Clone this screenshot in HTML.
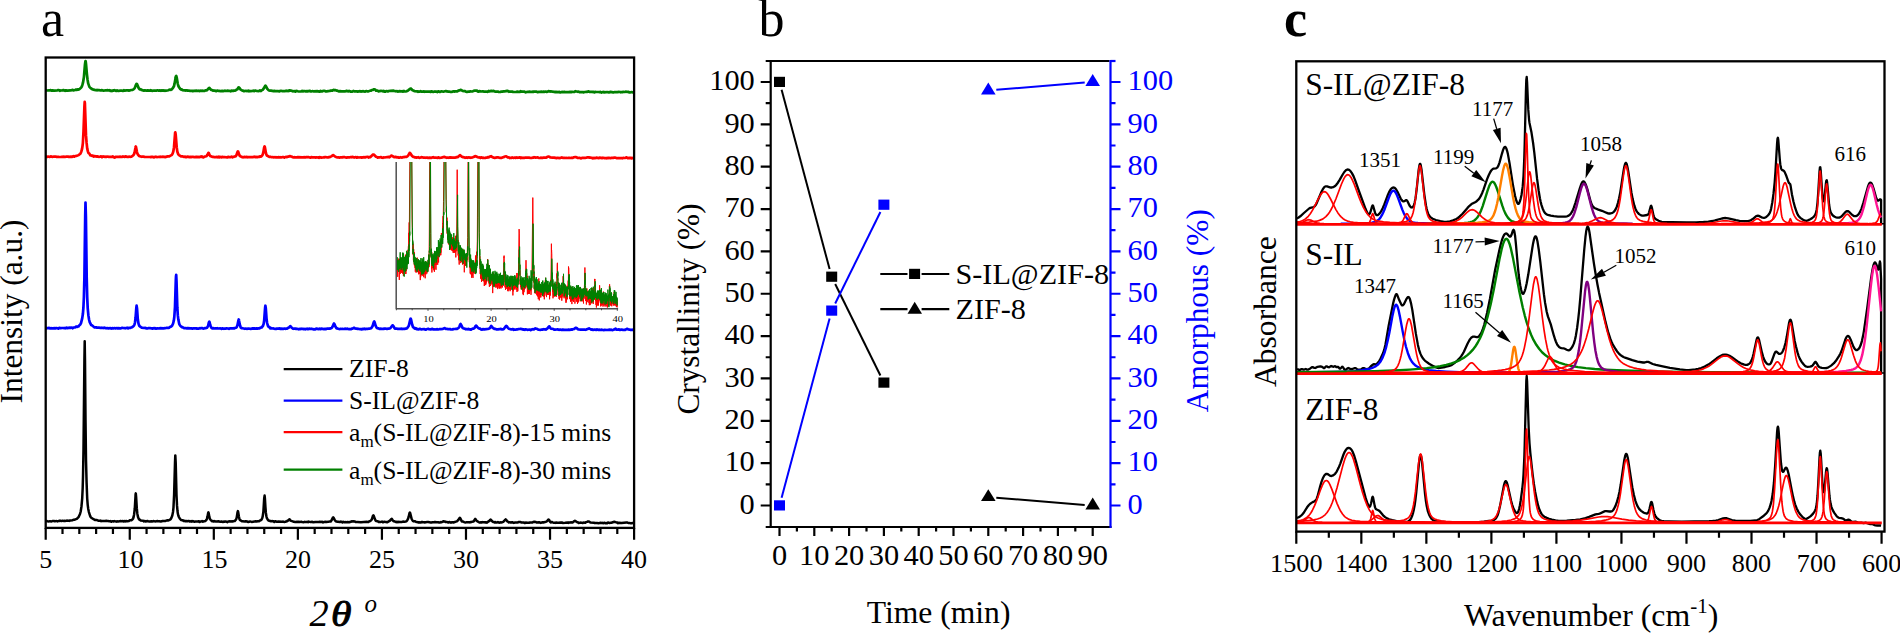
<!DOCTYPE html>
<html><head><meta charset="utf-8"><title>Figure</title>
<style>html,body{margin:0;padding:0;background:#fff}svg{display:block}</style>
</head><body>
<svg width="1900" height="633" viewBox="0 0 1900 633">
<g fill="none" stroke-linejoin="round" stroke-linecap="butt">
<path d="M45.7 520.9l0.8 0l0.9 0.3l1.7 0.2l0.8-0.2l1.7 0.2l0.8-0.3l1.7-0.1l0.8 0.3l0.9-0.2l0.8 0l0.9 0.3l0.8-0.4l0.8 0l0.9-0.4l0.8 0.4l0.9 0l0.8-0.3l0.9 0.2l0.8-0.1l0.8 0.2l1.7-0.4l1.7 0.1l0.8 0.2l0.9-0.4l2.5-0.3l0.8-0.4l0.9 0l1.7-0.7l0.8-0.2l1.7-1.7l1.5-3.2l0.7-2.5l0.8-5.3l0.7-7.9l0.5-10.5l0.3-11l0.5-27.6l0.9-88.6l0.3-19.3l0.3 19.5l0.5 58.1l0.5 41l0.6 23l0.6 15.6l0.5 6.3l0.5 3.9l0.7 3.4l1.2 3.8l0.5 1l0.7 0.9l2.3 1.5l0.9 0.3l0.8 0.5l0.8-0.1l0.9 0.1l1.7 0.7l0.8 0l0.8-0.2l0.9 0.6l0.8-0.3l0.9 0.2l0.8-0.1l1.7 0l0.8-0.2l0.9 0.2l0.8-0.1l0.8 0.3l0.9 0.1l0.8-0.2l0.9 0.7l0.8-0.6l0.8 0l0.9 0.3l0.8-0.4l0.9 0.3l0.8 0.3l0.8-0.4l0.9 0.1l1.7-0.1l0.8-0.3l0.9 0.2l1.6-0.1l0.9 0.5l0.8-0.7l0.9 0.5l0.8-0.4l0.8 0.3l1.7-0.3l0.9-0.7l1.6-0.1l1.2-1l0.5-0.7l0.5-1.5l0.5-2.5l0.7-6.3l0.7-11.8l0.1-2.3l0.2-0.7l0.3 3.2l0.7 11.6l0.5 5.2l0.4 2.2l0.5 2l0.5 1.1l0.5 0.7l1.5 1l2.5 0.4l0.8 0.6l0.9-0.4l0.8 0.6l1.7-0.7l0.8 0.4l0.9 0.1l2.5-0.1l0.9 0.2l0.8-0.4l0.8 0.1l0.9 0.2l2.5-0.3l0.8 0.1l0.9 0l1.7 0.3l0.8-0.2l0.8-0.3l0.9-0.1l1.7 0.2l1.6-0.7l0.9-0.1l0.8 0.2l0.9-0.5l0.8-0.3l0.7-0.7l0.5-0.9l1-2.6l0.7-3.5l0.5-4.7l0.6-12.5l0.9-32.2l0.3-7.2l0.4 7.1l0.8 32.5l0.5 10.4l0.5 5.6l0.3 2.3l0.5 2.2l0.5 1.3l1.2 2l1 1.2l1.7 0.3l0.9 0.7l0.8-0.3l0.8 0.5l0.9-0.3l1.7 0.3l0.8-0.3l0.8 0.5l0.9 0.1l0.8-0.5l0.9 0.6l0.8-0.6l0.8 0.5l0.9 0.2l0.8-0.2l2.5 0l0.9-0.2l0.8 0.7l0.9-0.4l0.8-0.1l0.8-0.4l0.9 0.7l0.8-0.5l0.9 0l0.8-0.4l0.3-0.3l0.9-1l0.3-0.7l0.5-1.8l0.7-3.9l0.2-0.7l0.1-0.2l0.2 0.4l0.8 4.5l0.5 1.7l0.9 1.2l1.3 1.1l0.9-0.1l0.8 0.5l0.9-0.5l0.8 0.4l0.8 0.1l2.6-0.3l0.8 0.4l0.8 0l0.9-0.2l1.7 0.5l0.8-0.5l0.8 0.2l0.9-0.3l1.7 0.8l0.8-0.6l0.8 0l0.9-0.3l0.8 0.2l1.7-0.2l0.8 0.1l0.9-0.3l0.8 0l1.4-1.9l0.5-1.5l0.8-5.3l0.4-1.3l0.3 1.1l0.7 4.3l0.6 2.7l0.4 0.8l0.3 0.2l0.5 0.1l0.9 0.9l0.8 0l2.5 0.3l0.9-0.2l1.6 0.3l0.9 0.4l0.8-0.2l0.9-0.4l1.6 0.5l4.2-0.6l0.9 0.3l0.8-0.4l0.9 0.1l0.6-0.1l1-0.8l0.9-0.2l0.7-0.7l0.6-1.3l0.5-1.8l0.7-4.9l0.8-13.1l0.4-2.8l0.3 2.8l0.5 8.5l0.5 6l0.5 3.3l0.5 1.9l1 1.7l0.7 0.7l2.4 0.8l0.8-0.2l1.7 0.2l0.8 0.7l0.9-0.7l1.7 0.5l1.6-0.2l3.4 0.2l0.8-0.2l1.7 0.3l0.9-0.1l1.6-0.5l0.9-0.8l0.8-0.1l0.5-0.8l0.4-0.3l0.3 0.2l0.7 0.8l0.6 0.6l1.7 0.5l0.9 0.4l1.6 0.3l1.7-0.4l0.9 0.3l0.8-0.2l1.7 0.1l0.8-0.2l0.9 0.3l1.7 0.2l0.8-0.4l0.8 0.3l0.9 0l0.8-0.3l0.9 0.4l0.8-0.6l1.7 0.5l0.8 0l0.9-0.3l0.8 0.5l2.5-0.3l3.4 0l0.8-0.2l1.7 0.3l0.8-0.4l0.9 0.7l0.8-0.4l1.7-0.3l1.7 0.2l0.8-0.2l0.9 0l0.8-0.3l0.9 0.2l1.3-2.1l0.8-1.8l0.4-0.4l0.3 0.3l1.2 2.3l1 1.3l1.7 0.5l0.8 0.1l1.7 0.3l0.8-0.5l0.9 0.2l0.8 0.6l0.9-0.6l0.8 0.5l0.8-0.2l1.7 0.1l0.9-0.2l1.6 0.3l0.9-0.3l0.8-0.2l0.9-0.5l0.8 0.1l0.5-0.1l2 0.3l0.9 0.5l0.3 0l0.5 0l0.9-0.2l3.3 0.3l5.9-0.4l0.8 0.2l0.9-0.1l0.8-0.6l0.9-0.2l1.1-1l0.5-0.8l1.2-3.6l0.4-0.4l0.3 0.4l1.2 3.5l0.8 1.5l0.3 0.4l1.7 0.2l0.9 0.6l0.8-0.1l0.8 0.3l1.7-0.5l0.9 0.7l1.7-0.6l0.8 0.2l0.8 0l0.9 0.4l3-1.7l1.3-1.6l0.4-0.2l0.3 0.2l0.9 1.6l0.8 0.7l0.8 0l1.7 0.9l0.9-0.5l0.8 0.6l0.8-0.5l0.9 0.3l1.7-0.2l0.8 0l0.8-0.3l1.2 0.2l1.7-0.3l0.7-0.3l0.8-1l0.9-1.8l0.5-1.7l0.8-3.6l0.3-0.6l0.2 0.1l0.3 0.9l1.2 4.9l0.5 1.2l1 1.5l0.9 0.3l0.8-0.2l0.9 0.5l0.8 0.3l0.8 0l0.9 0.5l0.8-0.2l1.7 0.3l0.8-0.5l0.9-0.1l0.8 0.3l0.9-0.1l0.8 0.3l0.8-0.3l1.7-0.2l0.9 0l2.5 0.5l0.8 0l0.9-0.3l1.6 0.1l0.9-0.3l1.7 0.3l1.6 0l0.9 0.2l0.8 0l0.9-0.4l0.8 0.1l0.3-0.1l0.5-0.2l0.9-0.7l0.8 0.3l0.9 0.1l0.8 0.5l0.9-0.2l0.8 0.3l0.8 0.4l0.9-0.6l1.7 0.7l0.8-0.5l0.8 0l0.9 0.3l3.2-1.1l0.6-0.3l0.9-0.9l1.7-2.5l0.1 0l0.4 0.5l1.5 3.2l0.8 0l0.9 0.3l0.8 0.5l1.7 0.2l0.8-0.2l1.7 0l0.8 0.2l0.9-0.3l0.8 0.1l0.9-0.4l1.5-0.3l0.5-0.5l1-1.7l0.3-0.4l0.4 0.3l0.8 1.3l0.7 0.6l2.3 1.4l0.9 0l0.8-0.3l0.9 0.3l0.8-0.4l0.8 0.2l0.9-0.1l0.8 0.3l0.9-0.3l0.8 0.5l0.8-0.8l1.6-1l0.8-1l0.3-0.3l0.5 0.3l0.9 1.1l1 0.9l0.8 0l0.9 0.6l0.8-0.4l0.8 0.5l0.9-0.1l0.8-0.4l0.9 0.5l0.8 0.1l0.8-0.4l0.9 0.1l0.8-0.1l1-0.4l1-0.8l1.1-1.4l0.5-0.3l0.6 0.5l0.9 1.5l0.8 0.3l0.9 0.7l0.8-0.2l0.8 0.4l1.7-0.3l1.7 0.6l0.8-0.3l1.7-0.2l0.9 0.2l1.6-0.6l0.9 0.1l0.8 0l0.9 0.4l0.8-0.1l1.7 0.2l0.8 0.5l0.9-0.5l1.6 0.2l0.9-0.1l0.8 0.1l0.9-0.3l0.8-0.1l0.9 0l0.8 0.1l0.8-0.6l1-0.2l1.6 0.3l0.8 0.6l2.5-0.3l1.7 0.6l1.7-0.6l0.8 0.2l0.9-0.3l0.8-0.1l1.3-0.5l0.9-0.6l0.8-1.1l0.5-0.3l0.7 0.5l0.8 1.6l0.9 0.7l0.8-0.5l0.9 0.5l0.8 0.3l0.8 0l0.9 0.2l0.8-0.4l1.7 0.3l1.7 0l0.8-0.3l0.9 0.3l0.8-0.4l0.9 0.5l2.5-0.1l2.5-0.3l0.8 0.4l0.9-0.5l0.8 0.2l0.9-0.3l0.8 0.2l0.7 0l0.3-0.2l1.5-1.2l0.5-0.3l0.5 0.2l1.4 1l1 0.3l0.8 0.6l2.5-0.3l1.7 0.5l0.9-0.7l0.8 0.3l0.8 0.1l0.9-0.7l0.8-0.2l0.9-0.4l0.5-0.1l0.5 0.1l1.5 1.1l3.4 0.1l0.8 0.3l2.5-0.1l1.7 0.3l0.8-0.1l0.9-0.3l0.8 0.1l0.9-0.1l0.8 0.4l1.7-0.5l0.8 0.6l0.9-0.2l0.8 0.1l0.8-0.6l1.7 0.3l0.9-0.1l0.8 0l2.9-1l2 0.6l1 0.1l0.8 0.7l0.9-0.4l2.5 0.1l4.9-0.5l1 0.2l0.8 0.4l0.9-0.1l1.6 0.4l0.9 0l0.8-0.3l0.9 0.1l0.8-0.6" stroke="#000" stroke-width="2.5"/>
<path d="M45.7 327.7l0.8 0.6l0.9-0.3l0.8 0.1l0.9-0.2l0.8 0.5l0.8-0.2l1.7 0.1l2.5-0.1l0.9 0.1l0.8-0.3l0.9 0.2l0.8 0.5l0.8-0.9l0.9 0.3l0.8 0.1l0.9-0.2l1.7 0l0.8 0.2l0.8-0.3l0.9 0.4l0.8-0.7l0.9 0.5l0.8-0.2l1.7-0.2l0.8 0.1l0.9-0.2l0.8 0.7l0.8-0.8l1.7-0.2l0.9-0.6l0.8 0.3l0.8-0.5l0.9-0.1l0.8-1.1l0.9-0.6l0.8-1.5l1.2-4.8l0.7-4.6l0.5-6.1l0.5-10.7l0.5-19.5l0.8-61.3l0.3-13.6l0.4 13.6l0.8 61.3l0.5 19.6l0.5 11l0.7 7.3l0.7 4.3l0.5 2.1l1.5 3.1l0.8 0.3l1.5 1.3l1.1 0.8l1.6 0l0.9 0.4l1.7-0.2l1.6 0.4l0.9-0.2l0.8 0.3l0.9-0.2l0.8 0.3l0.8-0.4l0.9 0.4l0.8 0.2l0.9-0.2l1.6 0.3l1.7-0.4l0.9 0.6l0.8-0.4l1.7 0.1l0.8-0.2l0.9 0.4l0.8-0.4l0.8 0.2l0.9-0.1l2.5 0.2l1.7-0.6l0.8 0.2l1.7 0.1l0.9 0.2l1.6-0.6l0.9 0.7l0.8-0.5l1.7-0.1l1.3-0.5l1.6-1.2l0.5-0.5l0.5-1.2l0.5-1.9l0.6-5l0.7-9.4l0.3-2.4l0.4 2.5l0.8 11.1l0.7 4.3l0.5 1.6l0.3 0.6l0.7 0.7l0.7 0.4l0.8 0.7l2.5 0.4l0.9-0.1l1.7 0.5l0.8 0.1l0.8-0.4l1.7 0l0.9 0.2l0.8 0l0.9 0.3l0.8-0.5l0.8 0.4l0.9-0.4l0.8 0.5l1.7-0.3l1.7 0.2l0.8-0.4l3.4 0.3l1.7-0.2l1.6-0.4l1.7 0.1l0.9-0.3l0.8-0.7l0.8-0.2l0.7-0.5l0.7-0.9l0.8-1.8l0.7-2.8l0.5-3.7l0.7-10.2l0.8-26.2l0.2-4.2l0.2-1.5l0.3 6.1l0.8 26.2l0.5 8l0.5 4.1l0.9 4.4l0.2 0.6l0.5 0.9l0.6 0.8l1.4 1.1l0.8 0.1l0.9 0.7l0.8 0.2l0.8-0.1l1.7 0.4l0.9-0.3l2.5 0.3l0.8-0.1l1.7 0.3l0.8-0.3l1.7 0.1l0.9-0.1l0.8 0.4l0.8-0.2l0.9 0.1l0.8-0.4l0.9 0.2l0.8-0.4l0.8 0.1l0.9 0.4l0.8 0.1l0.9-0.4l1 0l1.3-0.4l0.5-0.6l0.7-1.5l0.8-3.4l0.4-0.7l0.3 0.7l0.7 2.9l0.5 1.4l0.5 0.9l0.8 0.9l0.9-0.2l1.7 0.3l0.8-0.2l0.8 0.2l0.9-0.3l0.8 0.3l2.5-0.1l0.9 0.5l0.8-0.5l1.7 0.4l0.8-0.3l0.9 0.1l0.8-0.2l1.7 0.1l0.8 0.4l0.9-0.6l2.5 0.1l0.8-0.2l0.9 0.3l0.8-0.5l1.4-0.3l0.3-0.2l0.3-0.6l0.7-1.9l0.9-4.4l0.3-1.1l0.2 0.2l0.1 0.7l0.7 3.8l0.5 1.9l0.5 1.3l0.9 0.8l0.8 0l2.5 0.6l0.9-0.2l0.8 0.2l0.8 0l0.9-0.3l2.5 0.4l0.8-0.2l0.9-0.4l0.8 0.4l0.9-0.4l0.8 0.4l1.7-0.3l0.8 0.2l0.9-0.2l0.8 0.1l0.8-0.5l0.9-0.4l0.8-0.1l0.2-0.2l1-1.4l0.7-1.8l0.6-4l0.9-12.2l0.2-1.7l0.1-0.5l0.4 2.6l0.8 11.2l0.5 3.5l0.7 2.5l0.7 1.2l0.8 0.3l0.8 1.3l0.9-0.1l1.7 0.3l0.8-0.1l0.8 0.3l0.9 0.2l0.8 0l0.9-0.3l1.6 0l0.9-0.2l0.8 0.5l0.9-0.3l2.5 0.3l0.8-0.4l0.9 0.3l0.8-0.1l0.8 0l0.9-0.8l0.7 0l0.3-0.2l1.2-1.3l0.3-0.2l0.3 0.2l0.9 1l1.3 1.2l0.9 0.2l0.8-0.2l0.8-0.1l0.9 0.5l0.8-0.2l0.9 0.2l0.8 0.3l0.9-0.4l0.8 0.2l0.8-0.4l0.9 0.2l0.8 0l0.9 0.3l0.8-0.3l0.8 0.4l0.9-0.4l0.8-0.2l0.9 0.5l0.8-0.4l0.8-0.1l0.9 0.3l0.8-0.3l1.7 0.4l0.8 0.3l0.9-0.2l0.8 0.1l0.9-0.8l0.8 0.4l1.7 0.3l0.8-0.6l0.9 0.6l0.8-0.5l2.5 0.4l0.9-0.2l0.8 0.3l0.9-0.5l0.8-0.2l0.8 0.1l0.9-0.1l0.8 0.2l0.9-0.4l0.8-0.2l0.5-0.5l0.5-0.8l1.2-2.9l0.3-0.4l0.4 0.5l1 2.5l1.1 1.8l0.9 0l0.8 0.5l0.9 0.2l0.8 0.1l0.8-0.3l0.9 0.2l0.8-0.2l1.2 0.2l0.5 0l0.8-0.3l1.7 0.1l0.9-0.1l1.6 0.5l0.9-0.1l0.8 0.1l0.9-0.5l0.8 0l1-0.7l0.5-0.2l0.4 0.1l0.6 0.6l0.9 0.1l0.8 0l0.9 0.3l0.8-0.1l1.7 0.4l0.8-0.1l0.9 0.3l0.8-0.5l0.8 0.2l0.9-0.4l0.8 0.5l0.9-0.3l1.6 0l0.9-0.2l1 0l1.5-0.4l1-1.2l0.5-0.8l1.2-3.9l0.3-0.8l0.2-0.1l0.3 0.5l1.2 3.9l0.8 1.6l0.6 0.6l1.5 0.3l0.8 0.5l1.7-0.2l0.8 0.3l0.9-0.1l0.8 0.1l0.9-0.5l0.8 0.2l0.8 0l0.9 0.3l0.8-0.3l0.9 0l1.6-0.5l2.2-2.9l0.4 0.2l0.8 1.1l0.8 1.6l0.9 0.5l0.8-0.1l0.9 0.1l0.8 0.3l0.8-0.2l1.7 0l0.9-0.1l0.8 0.4l0.8-0.3l1.7 0.1l0.9-0.4l0.8 0.1l0.8-0.4l1.7-2.4l1.4-6l0.3-1l0.2-0.1l0.3 0.7l1.2 5.4l0.8 2.3l0.9 0.6l0.8 0.9l0.9-0.4l0.8 0.9l0.8-0.2l0.9 0.6l1.7-0.7l0.8 0.4l0.8 0.1l2.6-0.3l1.6 0.7l0.9-0.5l1.7-0.4l0.8 0.4l1.7 0.2l1.7-0.5l0.8 0.6l0.8-0.2l0.9 0.2l2.5-0.3l0.8 0.3l0.9-0.2l0.8-0.3l0.9 0.1l2.2-0.3l1.5-0.7l0.5 0.2l0.8 0.5l0.9 0l0.8 0.3l0.8-0.1l0.9 0.2l0.8-0.1l0.9 0.3l1.6 0.1l0.9-0.5l1.7 0l0.8-0.1l0.8 0.1l1.6-0.9l0.6-0.6l0.4-0.5l0.8-2.4l0.3-0.5l0.2-0.1l0.5 0.7l1.5 3.2l0.9 0.6l0.8 0l1.7 0.8l0.8-0.2l0.9 0.2l0.8-0.5l0.8 0.6l0.9-0.1l0.8 0.4l1.7-1.2l0.9 0.1l0.6-0.4l0.4-0.3l1-1.9l0.5-0.4l0.3 0.2l0.8 1.2l1.4 1.2l0.8 0.4l0.9 0.1l0.8 0.7l0.9 0.2l0.8-0.5l2.5 0.2l0.9-0.2l1.6-0.1l1.4-0.5l0.5-0.3l0.5-0.5l1-1.8l0.3 0.2l0.5 0.8l1.6 1.5l1 0.6l0.8-0.1l0.8 0.4l1.7 0.1l1.7-0.2l0.8-0.3l1.7 0.5l1.7-0.3l2-2.9l0.5-0.3l0.4 0.2l1.1 1.7l1.1 0.9l2.5 0.8l0.8-0.3l0.9 0l0.8 0.6l0.8-0.3l0.9 0.2l0.8-0.3l0.9 0.1l0.8-0.4l1.7-0.1l0.8-0.2l0.9 0.3l0.8 0l0.8 0.5l0.9-0.2l0.8 0.4l0.9-0.5l0.8 0.2l0.8 0.3l2.6-0.3l0.8 0.6l0.9-0.6l0.8-0.3l0.8 0.3l0.9-0.1l0.8-0.9l0.5-0.1l2 0.7l0.9 0.6l2.5 0.1l0.8-0.2l0.9 0.1l0.8-0.5l0.9 0.2l0.8-0.2l0.8 0.4l1.7-1.2l1.4-1.9l0.3-0.2l0.3 0.3l0.7 1.2l0.7 0.8l2.5 0.4l0.8 0.6l0.9 0.1l1.7-0.2l0.8-0.2l0.8 0.4l0.9 0.1l0.8-0.3l0.9 0.3l0.8 0.1l0.9-0.3l1.6 0.3l0.9-0.1l2.5 0.1l0.8-0.3l1.7 0.2l0.9-0.4l0.8 0.3l0.8-0.4l1.7-0.4l0.9-0.9l0.5-0.2l1.1 0.5l1 1l0.7 0.2l0.9 0l0.8 0.2l2.5-0.2l0.9 0.1l0.8-0.1l0.8 0.3l0.9-0.2l2.8-1.2l0.4 0.1l1.5 1l0.3 0.1l0.9-0.2l0.8 0.5l1.7-0.3l0.8 0.1l0.9 0.3l0.8-0.6l0.9 0.4l1.6-0.1l0.9 0.2l0.8-0.2l1.7 0.3l0.8 0.1l0.9-0.3l2.5 0.2l2.5-0.4l0.9 0.3l0.8-0.2l0.8 0.4l1.4-0.4l2-1l0.8 1l0.9-0.2l0.8 0.1l0.9-0.3l0.8 0.6l1.7-0.3l0.8 0.1l0.9 0.3l0.8-0.1l0.9 0.1l2-1.1l0.5-0.1l0.8 0.5l1.7 0.3l0.8 0.4l0.9-0.2l0.8-0.1l1.7 0.4" stroke="#0000ff" stroke-width="2.7"/>
<path d="M45.7 156.7l0.8-0.2l0.9 0.4l0.8-0.3l0.9 0.2l0.8 0l0.8-0.4l0.9 0.3l0.8 0.1l1.7-0.3l0.8 0.2l0.9-0.1l0.8 0.3l1.7-0.1l0.8 0.2l1.7 0l0.9-0.2l2.5-0.1l0.8 0.2l0.9-0.2l1.7-0.2l0.8 0.3l0.8-0.1l0.9 0.2l0.8-0.3l0.9 0.3l0.1 0l0.7-0.2l0.8-0.6l0.9 0.6l0.8-0.7l1.7-0.1l1.7-0.8l1.5-1.1l0.5-0.5l0.8-1.8l0.7-2.5l0.5-3.1l0.4-3.3l0.6-11.4l0.9-24.6l0.3-4.9l0.2 1.2l0.1 3.4l1 28.9l0.6 7.5l0.6 5.5l0.7 3l0.7 1.8l0.8 0.5l0.9 1.6l0.8 0.1l0.8 0.4l0.9-0.2l0.8 0.9l0.9-0.5l0.8 0.5l0.8-0.1l0.9 0.2l0.8-0.2l0.9 0.4l1.6-0.2l0.9-0.3l0.8 0.9l0.9-0.8l0.8 0.1l0.8 0.3l0.9-0.1l0.8 0.2l0.9-0.4l0.8 0.2l0.8 0.1l2.6 0.1l0.8 0.1l0.8-0.6l0.9 0.8l0.8 0.4l0.9-0.7l1.6-0.1l1.7 0.1l1.7-0.2l0.9 0.2l0.8 0l0.8-0.5l1.7 0.6l0.9-0.7l1.6 0.6l0.9 0.1l0.8-0.4l0.9 0.2l1.6-0.2l1.2-0.8l1-0.9l0.5-0.9l0.5-1.6l0.9-4.9l0.1-0.7l0.2-0.3l0.3 1l0.9 4.6l0.3 1.2l0.5 1.1l1.2 1.5l2.5 0.9l0.9-0.2l0.8-0.1l0.8 0.3l0.9 0.1l1.7 0.1l3.3 0l0.9 0.2l0.8-0.4l0.9 0.1l1.6 0.5l0.9-0.5l0.8-0.2l0.9 0.4l1.6-0.1l0.9-0.2l0.8 0.3l0.9-0.4l0.8 0.2l0.8-0.2l1.7 0.1l0.9 0.3l2.5-0.7l1.7 0l2.1-1.2l0.6-0.5l0.6-1.1l0.7-2.1l0.7-4.3l1-12.8l0.1-1.6l0.2-0.5l0.4 2.3l1 12.6l0.6 4.3l0.7 2.2l0.7 1.1l2.3 1.5l1.7 0.1l0.9 0.4l1.6-0.1l0.9 0.5l0.8-0.4l0.9-0.1l0.8 0.1l0.8 0.4l0.9-0.3l0.8 0.2l0.9-0.2l0.8 0l1.7 0.3l0.8-0.1l0.9-0.3l0.8 0.4l0.8-0.3l1.7 0.2l0.9-0.6l0.8 0.5l0.8-0.5l0.9 0.8l0.8 0l0.9-0.7l1.5-0.3l0.5-0.3l0.8-1.2l0.9-1.8l0.1-0.2l0.4 0.3l0.8 2.1l0.7 0.8l1.8 0.8l0.9 0l0.8 0.3l1.7-0.1l0.8 0.1l0.9-0.3l0.8 0.5l0.9-0.6l0.8 0.6l0.8-0.4l0.9 0.4l0.8-0.5l0.9 0.3l1.6-0.1l0.9 0.2l1.7 0.3l0.8-0.7l0.8 0.4l0.9 0l0.8-0.1l0.9-0.5l0.8 0.7l0.8-0.5l0.9 0l0.8-0.4l0.9 0l0.8-1.4l1-3.1l0.4-0.6l0.3 0.5l1 2.9l0.7 1.4l2.5 1.1l0.8 0.1l0.9-0.4l1.7 0.2l0.8-0.2l0.8 0.4l0.9-0.3l1.7 0.1l0.8-0.1l2.5 0.1l0.9-0.4l0.8 0.4l0.8-0.2l1.7 0.2l0.9-0.3l0.8 0.2l0.8-0.6l0.9 0.2l0.5-0.3l0.7-0.7l0.5-0.8l0.6-1.9l1-5.6l0.4-0.9l0.3 0.9l1 5.7l0.5 1.6l0.5 0.9l2.4 1.4l0.8-0.2l1.7 0.5l0.9-0.2l0.8 0.4l0.8-0.1l0.9-0.2l0.8 0.4l0.9-0.3l0.8 0.3l0.8-0.4l0.9 0.3l0.8-0.2l0.9 0.3l1.6-0.5l0.9 0.1l0.8 0.5l0.9-0.6l0.8-0.1l0.8 0.2l0.9-0.6l0.8 0.1l0.7-0.4l0.5-0.1l2.2 0.6l0.8 0.6l0.9 0.2l0.8-0.4l0.8 0.4l0.9-0.2l0.8 0.2l0.9-0.4l4.2 0.3l0.8-0.1l1.7-0.1l0.8 0.2l0.9-0.4l0.8 0.3l0.9-0.2l0.8 0l0.8 0.4l0.9 0.2l0.8-0.6l0.9 0.3l2.5-0.1l0.8 0.3l0.9-0.2l0.8 0.1l0.8-0.1l0.9 0.4l0.8-0.6l0.9 0.1l0.8 0.4l2.5-0.5l0.9 0.1l0.8-0.3l1.7 0.5l0.8-0.1l0.9-0.4l0.8 0.2l1.9-1.1l1.1-0.9l0.4-0.1l2.2 1.7l2 0.7l0.8-0.1l1.7 0.2l0.8-0.3l0.9 0l0.8 0.1l0.9-0.3l1.6 0.1l1.7 0.5l0.9-0.4l2.5 0l0.8-0.3l0.9 0.3l0.8-0.4l0.7 0.2l1 0.5l1.7-0.6l0.8 0.7l0.9-0.5l0.8 0.3l2.5-0.1l0.9 0.2l0.8-0.2l1.7-0.2l0.8 0.3l0.9-0.5l1.6-0.2l0.9 0.7l0.8-0.5l0.9 0.2l2.8-2.6l0.4-0.1l0.6 0.3l2 2l0.9 0.2l0.8 0.6l0.9-0.2l1.6-0.1l0.9-0.3l0.8 0.6l0.9 0.2l0.8-0.5l0.9 0.2l4.2-0.6l0.8 0.4l0.8-0.7l0.9-1l1.7 0.7l0.8 0.6l0.8 0.3l0.9-0.3l1.7 0.5l0.8-0.2l0.8 0.5l0.9-0.1l0.8-0.4l1.7 0.4l0.8-0.4l0.9 0l0.8-0.3l1.7 0l0.8-0.3l1.2-1.3l1.2-2.2l0.3-0.3l0.5 0.4l1.6 2.6l1.1 1l0.9 0l0.8 0.5l0.9 0l0.8 0.4l1.7-0.5l0.8 0.5l0.9 0.1l1.6-0.6l0.9 0.1l0.8 0.3l1.7 0l0.8 0.2l0.9-0.2l0.8 0l0.9 0.3l1.6-0.2l1.7 0.1l0.9-0.4l0.8-0.2l0.8 0.5l0.9 0l0.8-0.2l1.7 0.3l0.8-0.5l0.9 0.5l2.5-0.2l1.9-0.6l0.6-0.1l2.6 0.9l0.8-0.2l0.8 0.2l1.7-0.4l2.5 0.3l1.7-0.2l0.9 0.1l0.8-0.1l0.8-0.5l0.9 0.2l2-1.8l0.5-0.3l1 1.1l0.9 0.6l1 0.4l1.3 0.2l0.8 0.4l0.9-0.3l0.8-0.1l0.9 0.4l0.8-0.4l0.8 0l0.9 0.4l0.8-0.2l1.7-0.2l0.9-0.5l0.8-0.2l0.8-0.6l0.5 0.1l2.2 1.1l0.7 0.2l0.8-0.1l0.9 0.6l0.8-0.6l1.7 0.5l0.8-0.2l0.9 0.3l0.8 0l0.9-0.4l0.8 0.1l0.8-0.5l1 0.1l1.9-1l0.5-0.1l1 0.9l1.5 0.6l0.9 0.1l2.5-0.4l0.8 0l1.7 0.4l0.8 0l0.9 0.2l1.7-0.7l0.8-0.2l0.9-0.6l1.3-0.1l0.3 0l1.4 0.9l1.2 0.1l0.8 0.7l0.8-0.3l0.9 0.1l0.8-0.5l0.9 0.4l0.8 0l0.8-0.2l0.9 0.4l0.8-0.6l0.9 0.4l0.8-0.2l0.8 0.1l0.9-0.4l0.8 0.7l0.9-0.5l0.8 0.4l0.8-0.2l0.9 0.3l0.8-0.3l2.5 0l1.7-0.1l1.7 0.4l0.9 0l0.8-0.4l0.8 0.1l0.9-0.5l0.8 0.2l0.9 0.3l1.6-0.4l0.9 0.5l0.8 0.2l0.9 0l0.8-0.4l0.8 0.3l0.9 0l0.8-0.3l0.9 0.1l1.8-0.1l0.7-0.2l1-0.7l0.7-0.2l0.8 0.2l1 0.7l2.4 0.3l1.6-0.1l2.6 0.5l0.8-0.3l2.5 0.3l1.7-0.7l0.9 0.4l1.6 0l0.9 0.2l0.8-0.1l1.7 0.1l0.8-0.2l0.9 0l1.7 0.2l0.8-0.3l0.8 0.2l0.9-0.6l1.7-0.3l0.8 0.1l0.8 0.4l0.9 0.5l1.7-0.2l1.6 0.6l0.9-0.5l3.7-0.1l0.5-0.1l0.8-0.3l1.4-0.1l0.3 0l0.8 0.4l0.9-0.2l0.8 0.4l0.9-0.1l0.8 0.6l0.9-0.5l1.6 0.2l0.9-0.4l2.5 0.4l0.8-0.5l0.9 0.3l0.8 0l0.9 0.3l0.8-0.5l1.7 0.4l0.8-0.1l0.9 0.3l0.8-0.4l0.8 0.3l0.9-0.4l0.8 0.3l0.9 0l0.8-0.2l0.8-0.1l0.9 0.2l0.8-0.4l0.9-0.1l1.6 0.6l0.9-0.1l0.8 0.2l2.6-0.2l0.8 0.1l0.8 0.2l0.9-0.4l1.7 0.1l0.8-0.3l0.8-0.4l0.9 0.8l0.8 0.1l0.9-0.4l0.8 0.4l0.8-0.4l0.9 0.5l0.8-0.1l0.9-0.3l0.8 0" stroke="#ff0000" stroke-width="2.7"/>
<path d="M45.7 90.4l0.8 0l0.9 0.1l1.7-0.2l0.8 0.1l0.8-0.3l0.9 0.5l0.8-0.2l1.7 0.2l3.4-0.3l0.8-0.3l0.8 0.3l0.9 0.5l0.8-0.4l0.9 0.1l0.8 0l0.9-0.4l1.6 0.7l0.9-0.5l1.7 0.3l2.5-0.3l0.8 0l0.9-0.1l0.8-0.4l0.8 0.5l0.9-0.1l0.8-0.2l0.9-0.4l0.8 0.3l0.8-0.6l0.9 0.3l0.8-0.4l1.7-1.4l0.7-1l0.6-1.6l0.7-2.5l0.9-5.4l1.1-13.2l0.4-2.6l0.1-0.5l0.2 0.3l0.3 2.5l0.9 10.3l0.7 5.9l0.6 3.4l1.2 3.5l1.2 1.2l2.2 1.4l0.8 0.1l0.9 0.3l1.6 0.4l0.9-0.4l0.8 0.4l0.9-0.3l1.6 0.4l0.9-0.2l1.7 0.2l0.8 0.3l1.7-0.4l0.8 0.1l1.7-0.2l0.8 0.3l0.9-0.3l0.8 0.7l0.9-0.3l0.8 0.5l0.8-0.7l0.9 0.2l0.8-0.4l1.7 0.8l0.8-0.7l0.9 0.6l0.8 0l1.7-0.4l0.9 0.2l0.8-0.1l0.8 0.4l0.9-0.8l0.8 0.4l1.7-0.2l1.7 0l0.8 0.2l2.5-0.6l0.9 0l1.2-0.6l1-1l0.6-1.3l1.2-3l0.3-0.3l0.4 0.3l1.7 4l0.8 1.1l0.3 0.2l0.9-0.2l0.8 0.7l2.5 0.8l0.9-0.4l0.8 0.3l0.9 0l0.8-0.2l2.5 0.3l0.9-0.5l1.7 0.7l0.8-0.4l0.8 0.2l1.7-0.1l0.9 0l0.8-0.3l0.8 0.3l0.9 0l0.8-0.2l0.9 0.4l0.8-0.4l0.8 0.2l0.9-0.2l0.8 0.4l0.9-0.3l0.8 0.3l2.5-0.6l0.9-0.4l0.8-0.2l0.8 0.3l0.9-0.5l0.3-0.4l1.2-1.6l0.7-1.3l0.6-2.7l1.1-6.1l0.1-0.8l0.4-0.6l0.1 0.2l0.4 1.3l1 6.1l0.5 2l0.5 1.3l1.5 2.1l0.8 0.7l0.9-0.2l0.8 0.8l1.7 0.2l0.8 0l0.9 0.2l0.8-0.3l0.9 0.4l0.8-0.1l1.7 0.3l0.8 0l0.9-0.1l0.8 0.4l0.8-0.4l3.4-0.1l0.8 0.2l0.9-0.2l0.8 0.4l0.9-0.5l0.8 0.4l0.8-0.3l0.9 0.1l1.7 0l0.8-0.5l0.8 0.2l0.9-0.3l1.7-2l0.5-0.3l0.3 0.2l0.9 1.2l0.5 0.5l0.3 0.2l0.8 0.1l0.9 0.6l0.8-0.2l0.9 0.1l1.6 0.5l0.9-0.6l0.8 0.4l0.9 0l1.6 0.2l1.7-0.2l0.9 0.2l1.6-0.4l1.7 0.3l0.9-0.3l1.6 0.1l1.7 0.5l0.9-0.6l1.6 0.2l0.9-0.3l0.8 0.1l0.9-0.2l0.8-1l0.9-0.1l0.8-1.7l0.5-0.3l0.3 0.1l0.4 0.4l1.3 1.8l1.7 1l0.8 0l0.9 0.5l0.8-0.2l0.9-0.1l1.6 0.2l0.9-0.4l0.8 0.6l0.9-0.3l0.8 0.1l1.7-0.1l0.8-0.4l0.9 0.6l0.8-0.5l0.8 0l0.9 0.3l1.7 0.1l0.8-0.1l0.8-0.7l0.9 0.7l0.8-0.8l0.9-0.2l1.5-2.1l0.8-1.6l0.5-0.6l0.2 0.1l0.3 0.4l1.4 2.7l1.2 1.3l1.6 0.5l0.9 0l2.5 0.4l0.8-0.2l0.9 0.2l0.8 0.1l2.5 0l0.9 0.3l0.8-0.7l0.9 0.2l0.8-0.1l0.8 0.3l0.9-0.2l1.7 0.1l0.8-0.4l0.8 0.4l0.9-0.3l0.8 0.3l0.9-0.7l0.1 0l2.4 0.5l0.8 0.4l1.7-0.3l0.8 0.6l0.9-0.7l0.8 0.1l0.9 0.3l0.8 0.2l1.7 0l0.8-0.1l0.9-0.6l0.8 0.7l0.9-0.4l0.8-0.1l0.8 0.4l1.7-0.3l0.9 0.3l0.8-0.4l0.8-0.2l0.9 0.5l0.8 0.1l0.9-0.2l0.8 0l0.8 0.2l3.4-0.3l0.8 0.3l1.7 0.2l0.9-0.7l0.8 0.5l0.8 0l0.9-0.6l0.8 0.2l0.9-0.2l0.8 0.5l0.9 0.1l0.8-0.1l0.8-0.2l1.7-0.1l0.9-0.5l0.8 0l0.8 0.2l0.9-0.6l0.8-0.2l0.9 0.4l0.8-0.2l0.8 0.5l0.9 0.1l0.8 0.5l0.9 0.2l0.8-0.3l1.7 0.3l1.7-0.1l1.6 0.1l0.9-0.2l0.8-0.4l1.7 0.6l0.8-0.5l0.9 0.5l0.8 0.2l1.7 0l0.8-0.7l0.9 0.4l0.8 0.1l1.7-0.1l0.9 0.3l2.5-0.4l0.8 0.4l0.9-0.3l1.6-0.1l1.7 0.4l0.9-0.5l0.8 0.1l0.8 0.2l0.9 0l1.7-0.8l0.8 0.1l0.8-0.7l0.9 0l1-0.6l0.5-0.1l1 0.2l0.8 1.1l1.7 0.1l0.9 0.7l0.8-0.3l1.7-0.2l0.8 0.1l0.9 0.3l0.8-0.4l0.9 0.7l0.8 0l0.8-0.5l0.9 0.1l0.8 0.3l0.9-0.5l1.6-0.2l3.4-0.1l1.7 0.5l0.8 0.1l0.9-0.2l0.8 0.5l0.8-0.1l0.9-0.5l0.8 0.5l0.9 0l0.8-0.4l0.8 0.6l0.9-0.7l0.8 0.5l1.7-0.2l1.2-0.4l0.5-0.3l0.8-0.8l0.9-0.5l0.8-0.8l0.3 0l0.5 0.3l0.9 1.2l1.7 0.9l0.8 0.2l2.5 0.2l0.9 0.5l0.8-0.3l0.9 0.1l0.8-0.5l0.8 0.5l1.7 0l0.9-0.2l0.8 0.4l0.8-0.2l3.4 0.1l0.8-0.1l0.9 0.3l0.8-0.6l1.7 0.7l1.7-0.6l0.8 0.3l0.9 0l0.8 0.4l0.8-0.8l1.7 0.7l1.7-0.7l1.7 0.4l2.5-0.7l0.9 0.5l0.8-0.1l0.8 0.3l0.9-0.1l0.8 0.2l1.7 0.1l0.8-0.2l0.9-0.4l0.8 0.3l0.9-0.3l2.5 0l0.8-0.7l0.9-0.2l1.6-0.6l1.7 1.1l1.7 0.3l0.8-0.2l0.9 0.7l0.8 0.2l1.7-0.3l0.8 0.1l0.9-0.3l1.7 0.1l0.8-0.1l0.9-0.5l1.6-0.4l0.9 0.3l0.8-0.2l0.9 0.8l0.8 0.3l0.8-0.6l1.7 0.4l1.7-0.2l0.8 0.3l2.6-0.1l1.6 0.3l0.9-0.9l0.8 0.5l1.7-0.6l1.7 0.3l0.8-0.2l1.7 0.8l0.8-0.1l0.9 0.1l0.8-0.2l0.9 0.4l1.6 0.1l0.9-0.4l0.8 0l1.7-0.3l0.9 0.2l0.8-0.4l0.8 0l0.9-0.3l0.8 0.3l0.9 0.7l0.8-0.3l1.5 0.2l1-0.1l0.9 0.3l3.3 0.1l0.9-0.4l2.5 0.4l0.8-0.8l0.9 0.5l1.6 0l0.9-0.2l1.7 0.9l0.8-0.4l0.8-0.1l0.9 0.1l0.8-0.4l0.9 0.4l0.8-0.2l0.9 0.2l0.8-0.3l0.8 0.3l0.9-0.4l2.5 0l0.8 0.5l1.7-0.3l0.9 0.2l0.8-0.3l0.8 0l0.9 0.3l0.8-0.4l0.9 0.3l1.6-0.4l0.9 0.4l1.7-0.7l0.6 0l1 0.4l0.9-0.3l1.3 0.4l2 0.1l0.9 0.3l0.8-0.2l2.5 0.3l0.9-0.4l0.8 0.7l1.7-0.6l1.7 0.3l0.8-0.4l0.9 0.4l1.7-0.2l0.8 0.1l0.8 0l1.7-0.3l0.9 0.4l0.8-0.4l2.5 0.2l0.9-0.8l2.5 0.6l0.8-0.3l0.9 0.6l0.8 0.1l2.5-0.2l0.9 0.4l0.8-0.4l0.8 0l0.9-0.2l0.8 0.2l0.9-0.4l0.8-0.2l0.8 0.5l2.6-0.1l0.8 0.3l0.9-0.2l0.8 0.5l0.8-0.5l0.9 0.1l2.5 0l0.8 0.2l0.9-0.3l0.8 0.7l0.9-0.5l0.8 0.2l0.8-0.5l0.9 0.6l0.8-0.2l0.9 0l0.8-0.2l1.7 0.4l1.7-0.5l2.5 0.4l0.8 0l0.9-0.3l2.5 0.2l1.7-0.3l0.8 0.1l0.9 0.3l0.8-0.3l0.8 0.2l0.9-0.3l1.7 0.1l0.8-0.4l0.8 0.2l1.7 0l0.9 0.5l1.6 0l0.9-0.2l1.7 0.4l0.8-0.1" stroke="#008000" stroke-width="2.7"/>
</g>
<defs><clipPath id="ci"><rect x="396.2" y="162" width="223.90000000000003" height="146.7"/></clipPath></defs>
<g fill="none" stroke-linejoin="round">
<g clip-path="url(#ci)">
<path d="M396.4 260.8l0.2 9.3l0.2-9.7l0.2 10.2l0.1-9.7l0.3 11.6l0.2-7.6l0.1 11.9l0.2-15.5l0.1 5.2l0.2-1.9l0.3 6.1l0.2-12.1l0 10.4l0.1-8.8l0.1 5.2l0.1-5.5l0.1 6.2l0-3.2l0.1 4.1l0.1 12.9l0.2-19.3l0.2 8.3l0.1-3.2l0 2l0.1-1.1l0.1-4.7l0.1 6.6l0.1-5.8l0 11.3l0.1-10l0.3 6.1l0-6.5l0.1 6.7l0.1-4.7l0.1 5.8l0.2-8.6l0.2 10.1l0.1-8.4l0.2 3.7l0.2-1.4l0.2-5l0.2 10.5l0.4-5.6l0.2 6.6l0.1-10.4l0.1 11.1l0.1-7.2l0.1 2.6l0.1-8.4l0.1 14.8l0.4-13.9l0.2 8.2l0.2-4.5l0.1 5.3l0-8.8l0.2 7.7l0.2-12.2l0.3 13.6l0-10.7l0.2 6.8l0.2-12.7l0.1 19.2l0.2-13.6l0.2 13.8l0.2-10.1l0.1 5.8l0-6.9l0.1 7.9l0.1-10.8l0.2 8.2l0.3-14.1l0.3 8.8l0.1-4.2l0 4.3l0.2-5.4l0.2 3.5l0.3-11l0 11.6l0.4-15.3l0.2 10.6l0.2-24.1l0.1 13.9l0.3-24.3l0.1 16.8l0.5-80.4l0.1-1.8l1.8 0l0.4 62.1l0.7 31.8l0.1-3.5l0.1 7.2l0.2-10.7l0.2 16.4l0.1-3.2l0.1 3.1l0.1-11l0.1 12.1l0.2-5.1l0.3 9l0.2-12.9l0.2 12.9l0-5.4l0.3 8l0.1-7.3l0.1 0.7l0.1 10.5l0.2-7.4l0 1.6l0.1-0.3l0.1 0.5l0.2-5.5l0.2 12.1l0.2-7.3l0.2 2.6l0.1-4.1l0.1 3.9l0.1-4l0.2-1.1l0.1 8.1l0.1-13.2l0.1 8.6l0.1-1.3l0.2 7.3l0.2-6.9l0.2 6.3l0.1-8.3l0.1-0.4l0.1 0.6l0.1-1.1l0.1 10.3l0.1-5.4l0.1 7l0.1-8.6l0.1 6l0.1-9.6l0.3 11.8l0.1-10.3l0.1 9.4l0.1-5.9l0.1-0.6l0.1 1l0.1-6.1l0.4 18.7l0.1-18.1l0.3 15.2l0.1-11l0.1 6.8l0.1-1.6l0.1-8.8l0.3 7.2l0.1-1.9l0 2.2l0.2-4.4l0.1 9.8l0.2-12.6l0.2 9.9l0-8.6l0.1 9.7l0.1-6l0.3 6.5l0.1-6.5l0.1 8l0.1-9.6l0.1 6.1l0.1-7.2l0.2 9.3l0.1-12.2l0.2 14.9l0.4-12.3l0.3 9.4l0.1-10.7l0.1 10.2l0.1-8.7l0.1 3.8l0.2-3.5l0.2 12.9l0-11.4l0.2 7l0.1-1.6l0.1 0.4l0.1-11.5l0.3 13.1l0.2-6.3l0.1 1.1l0-1.1l0.2 3.5l0.2-6.5l0.1 7.9l0.1 0.6l0.2-2.1l0.1-3.5l0.1 2.5l0.1-7.1l0 3.3l0.1-2.3l0.1 5.7l0.1-5.5l0.2 7l0.1-9l0.2 5.8l0-8.2l0.1 5.8l0.3-11.3l0 9.3l0.2-8.8l0.1 10.4l0-7.4l0.1 9l0.3-30.1l0.4-80l0.6 0l0.3 76.6l0.3 20.5l0.2 3l0.1-4l0.4 15.6l0.1-16.6l0.2 20.4l0.2-15.5l0.2 11l0.1-8.1l0.1 3.8l0.2 0.1l0.1-6.9l0.2 11.3l0.1-8.1l0.2 6.3l0.1-2.5l0.1 5.7l0.3-13.5l0 4.7l0.2-1.2l0.1 1l0.1 9.9l0.1-7.9l0.1 9.2l0.1-16l0.3 13.1l0.1-11.7l0 2.6l0.1-4.3l0.1 6.7l0.1-4.6l0.1 3.7l0.1-2.5l0.1 6.1l0.3-8.7l0.2 13.6l0-11.6l0.4-2.7l0.1 9.2l0.3-12.7l0 7.1l0.3-5.7l0.1 8l0.3-6l0 2.4l0.1-1.5l0.1 8.5l0.1-13.4l0.1 9.1l0.1-6.3l0.1 6.5l0.3-12.1l0.2 13.9l0-6.5l0.1-0.4l0.1 1.2l0.1-1.8l0.1 1.5l0-5.4l0.2 4.5l0.2-9.7l0.2 6.9l0.2-7.2l0.1 9.8l0.1-6.6l0.1 0.5l0-0.9l0.1 0.8l0.2 3.7l0.1-12.4l0 11.6l0.2-7.4l0.1 10.5l0.1-10.6l0 8l0.2-12.6l0.2 6.1l0.1-13.1l0.1 7.4l0.1-4.1l0.1 11.1l0.1-8.8l0.3-4.9l0.2 2.7l0.2-9.8l0.1 6.4l0.1-6.3l0 2.4l0.1-6l0.2 0.8l0.1-7.8l0 12l0.4-26.7l0.4-44.4l1.8 0l0.6 55.5l0.1-4l0.4 16.6l0.2-7.5l0.2 16.2l0.1-11.6l0.3 17.5l0.3-8.6l0.3 6.1l0.1-1.5l0.1 7.9l0.3-10.5l0.2 8.6l0.1-5.8l0.1 9.1l0-6l0.1 3l0.2-6.1l0.1 13.3l0-12.5l0.1 8.3l0.1-5.6l0.1 3.5l0-4.1l0.3 11.2l0.1-10.8l0.1 7.3l0.1-6l0.1 5.4l0.1-5.8l0.2 8.2l0.2-9.2l0 7.4l0.1-6.8l0.2 10.5l0.1-7.9l0.1 6.9l0.2-9.3l0.1 10.6l0.3-11.8l0.2 8.2l0.2-1.9l0-7.6l0.1 13.2l0.1-1.9l0.1 2.5l0.2-7.3l0.2 9l0-13l0.4 12.6l0.1-10.5l0.1 5.1l0.1-6.1l0.1 9.6l0.1-5.4l0.1 4.7l0.1-7.7l0 9.5l0.1-9.9l0.1 9.8l0.1-11.2l0.1 12.5l0.1-11.4l0.2 7.5l0.1-5.2l0.1 5l0.1-1.7l0.1-11.3l0.1 13.6l0.2 2.2l0.1-6.7l0 12.5l0.1-7l0.1-2.1l0.1 2.8l0.1-0.8l0.1-7.1l0.1 5.7l0.2-14.1l0.1 2.5l0.5-67.6l0.4 59.3l0.5 26.5l0.2-15.3l0.3 20l0.2-11.8l0.2 3.3l0.1-0.8l0.1 13.7l0-13.1l0.2 6.4l0.2-8.9l0 10l0.2-9.9l0.1 6.5l0 0.8l0.1-3l0.2 4.7l0.2-12.1l0.2 14.3l0.1-0.7l0.1 3.5l0.2-12.7l0.1 8.7l0.3-6.6l0.2 9.5l0.1-6.2l0.1 3.6l0-4.6l0.1 3.7l0.1-4.8l0.1 5.5l0.1-2.2l0 2.2l0.2-5.6l0.2 11l0.1-7.3l0.1 4.5l0.1-1.4l0.1-7.4l0.1 7.3l0.1-4.9l0.1 8.4l0.1-2l0.1-12.1l0.1 12.3l0.1-7.2l0.1 8.8l0.3-7.3l0.2 16l0.2-14.2l0.2 0.5l0.1-1.3l0 6.9l0.1-4.4l0.1 4.5l0.1-7.8l0.1 8.1l0.3-6.9l0 8.1l0.1-6.3l0.1 1.1l0.1-2.8l0.1 4.2l0-2.4l0.2 2.8l0.2-7l0.1 8.7l0.2-8.3l0 6.5l0.3-1.9l0.1-3.4l0.1 3.2l0.6-22.8l0.3-80.4l0.5 0l0.3 72.7l0.5 32.5l0.1-5.7l0.2 8.1l0.2 2.9l0.2-10.5l0.2 16.5l0.1-10.2l0.1 4.7l0.2-7.3l0.1 2.7l0.1-1.3l0 12.1l0.1-10.3l0.2 10.4l0.1-1.7l0.1 0.9l0.1-10.8l0.1 3.5l0-1.4l0.1 1.8l0.1 11.2l0.1-16.3l0.1 8.6l0-6.8l0.1 10l0.2-7l0 10l0.1-7.6l0.1 4.8l0.2-7l0.2 4.6l0.1-1.8l0.1 8.6l0-9.7l0.4-4.6l0.1 9l0.2-4.1l0.1 4.8l0.1-1.8l0.1 0.6l0.1-5l0 1.1l0.1-2l0.1 2.6l0.1-2.8l0.1 2.4l0.3-1.4l0.1 6.8l0.1-9l0.1 4.5l0.1-5l0.1 4.2l0.2-13l0.1 15.8l0.1-10.6l0.2 8l0.1-10.1l0.2 5.4l0.1-7.4l0.1 10.3l0.3-15.1l0 6.2l0.1-6l0.1 3.3l0.4-14.2l0.5-84.1l1 0l0.4 76.8l0.5 30.4l0.1-8.1l0.2 9l0.1-2l0 1.4l0.1 9.4l0.2-8.1l0.1 12.3l0.1-13.1l0.2 5.5l0-2.4l0.1 11l0.2-9.1l0.1 3.7l0-4.6l0.3 12.8l0.1-17.3l0.3 16.5l0.3-9.9l0.1 9.5l0-10.5l0.1 4.2l0.3-7.6l0.3 12l0.1-5.4l0.2 5.1l0.1-8.1l0.2 9.9l0.2-7.2l0.2 8.5l0.1-7.4l0.2 11.8l0.2-13.3l0.1 6.1l0-2.8l0.1 1l0.1-2.3l0.1 0.8l0.1 8.7l0.3-9.5l0.4 10.4l0.2-13.4l0.1 7.6l0.1-7.9l0 12.2l0.3-10.8l0.2 9.2l0.2-11.9l0.1 6.7l0.2-5l0.1 5.4l0.4-18.2l0.1 9.1l0.2-4.6l0.3 17.9l0.1-5.1l0 1.5l0.3-6l0.3 11.6l0.1-7.8l0.4 11.2l0.1-11.4l0.2 5l0.1-3.3l0.2 5.9l0.2-6.1l0.3 9.1l0.1-4.5l0.3 3.6l0-1.6l0.1-8.9l0.1 9.3l0.2-5.2l0 3.7l0.2-2.1l0.1-6l0.1 8.4l0.2-7.9l0.1 8.6l0.4-5l0 4.4l0.1-3.2l0.2 13.5l0.2-18.1l0.2 8.9l0.2-11.1l0.1 10.5l0.1-4.3l0.1 7.4l0.1-5.7l0.1 4.3l0.3-6.7l0.1 7.9l0.1-8.4l0.1 6.9l0.2-8.7l0 10.1l0.1-9.2l0.1 9.1l0.1-3.6l0.2 3.6l0.1-2.9l0.1 0.8l0.1-1.2l0 3.2l0.1-5.5l0.2 7.1l0.1-5.8l0 1.9l0.1-3.5l0.2 2.9l0.1-4.2l0.3 6l0.1-9.2l0.1 11.8l0.2-8l0.2 6.1l0.2-9.1l0.1 6.6l0.2-2.2l0.1 8.3l0.2-9.5l0.1 8.5l0-6.8l0.1 1.1l0.1-2l0.2 4.2l0.3-3.4l0.1 5.1l0-5.5l0.2 1.2l0.1-2l0 1.9l0.1-4.5l0.3 11.2l0.1-8.8l0.1 5.1l0.2-4l0.1 5.3l0.1-3l0.1 0.8l0 4.1l0.2-11.2l0.2 9.2l0.2-10.3l0.2 12.7l0.1-13.4l0.1 9.8l0.1-3.8l0.1 0.8l0.1-2.2l0.2 6.7l0.1-5.4l0.1 5.8l0.2-7.3l0.3 8l0.2-7.1l0.1 5.2l0.1-0.5l0.1 0.9l0.1-8.9l0.1 3.8l0.1-3.7l0.2 3.6l0.5-24.1l0.1 0.9l0-0.3l0.1-1.7l0.5 23.8l0.1-8.6l0.3 16.6l0.1-7.6l0.1-0.9l0.2 6.1l0.1-3l0 8l0.2-9l0.3 6l0.1-4.4l0.1 4.5l0.1-3.4l0.2 2.8l0.1-4.8l0.1 7.1l0.2-6.7l0.1 3.9l0-7l0.1 5.6l0.2-6.6l0.2 9.7l0.2-7.5l0 10.6l0.1-8.5l0.1 7.6l0.2-10.5l0 11.9l0.1-8.2l0.2 5.9l0.1-9l0.2 7l0.1-6.7l0.2 7.3l0.1-3.8l0.1 3.1l0-3.9l0.4 6.5l0.2-1.9l0.2-6.7l0.1 10.3l0.2-7.1l0.1 5.2l0.2-7.8l0.1 2.8l0-2.1l0.1 1.9l0.2-2.7l0.1 8.1l0.1-11.6l0.2 3.3l0.1-3.7l0.1 8.1l0.1-8.6l0.1 9l0.2-4l0.2 3.3l0-7.7l0.2 9.5l0.2-5.2l0.2 0.8l0.1 12.7l0-14.3l0.1 9.8l0.3-6.7l0.1 7.1l0.4-9.7l0.3 6.2l0.1-8.7l0.2 10.1l0-8l0.2 8.1l0.2-7.8l0.1 4.9l0.1-2.6l0.2 4.4l0.2-4.3l0.2 2.4l0.1-2.5l0.1 1.1l0.1-1.3l0.2 6.1l0.1-6l0.1 3.9l0.1-1.7l0.1 2l0.1-4.4l0.1 3.9l0-1l0.1-13.4l0.2 18.9l0.1-10.7l0.2 4.7l0.1-4.8l0 7.5l0.3-9.2l0.1 11.8l0.2-18.2l0.2 9.1l0.1-8l0.1 1.8l0.7-46.8l0.2 4l0.4 39.8l0.1 2.7l0.1-5.4l0.2 14.1l0.1-3.7l0.1 1.1l0.1-1.3l0 3.8l0.2-2.3l0.1 1.4l0.1-1.2l0 5.1l0.2-7.4l0.2 9.6l0-5.5l0.2 4.6l0.1-4.3l0 4.6l0.3-5l0.1 2.4l0-4.3l0.3 6.2l0.1-3.7l0.2 6.5l0.2-6.7l0 4.4l0.1-10.4l0.2 15.7l0.1-9.6l0.2 10.8l0.1-16.5l0.1 12.2l0.1-3.2l0.1 2.9l0.1-5.7l0.2 7.4l0.1-6.4l0.2 4l0.2-5.5l0.1-0.4l0.1 1l0.1-0.6l0.1-3.7l0.1 8.1l0.2-8.6l0.1 8l0.7-27.9l0.6 23.7l0.2-10.5l0 13.9l0.2-4.4l0.1 2.5l0-9.6l0.3 18.6l0.1-9.9l0.2 5.5l0.1-7l0.1 10.5l0-8.7l0.1 3.9l0.1-5.3l0.2 7.9l0.1-7.8l0.2 10.5l0-10.6l0.1 5.4l0.2-3l0.1 0.8l0 6l0.4-9.1l0.1 10.3l0.2-13.8l0.2 7.8l0.1-2.6l0.2 4.9l0.1-2.5l0.1 3.6l0.1-9.6l0 6.6l0.2-7.2l0.1 9.5l0.1-10l0.1 14.3l0.2-8.7l0 3.1l0.1-1.2l0.1-8.6l0.2 7.5l0-6.6l0.2-4.1l0.1 1.9l0.9-80.5l0.8 77l0.1-6.2l0.2 14.2l0.1-9.2l0.2 15.3l0.1-3.6l0.1 4.6l0.1-5.7l0.1 8.8l0-8.2l0.1 8.6l0.1-8.2l0.1-1.5l0.1 6.8l0.2-7.4l0.3 6.6l0.1-9.4l0.2 13.6l0.2-7.4l0.2 4.6l0.2-4.8l0.1 5.9l0.1-9.1l0.2 12.4l0.4-9.9l0 8l0.2-6.7l0.1 9.7l0.1-12l0 10.1l0.2-8.1l0.1 3.9l0.1-3.6l0 3.7l0.2-4.8l0.1 13.6l0-11.1l0.1 5.2l0.1-3.6l0.1 2.6l0.2-13.9l0.1 15.1l0.2-7.6l0.2 14.5l0.1-9.5l0.1 2.5l0-1.1l0.1 0.6l0.2-4.2l0.1 5.9l0.1-8.5l0.2 10.6l0.2-12.3l0.1 8.8l0.1 4l0.1-6.1l0.1 6.3l0.1-9.5l0 5.7l0.2-7.3l0.2 8.9l0.1-6l0.1 5.3l0.3-2.8l0.1-4l0.2 3.4l0-3l0.3 6.3l0.1-7.3l0.2 4.6l0.1-2.3l0 2.5l0.1-2.8l0.1 5.8l0.2-8.1l0.1 9.9l0.1-12.6l0.3 12l0.2-10.7l0.1 9l0.3-6.5l0 11.4l0.1-12.8l0.2 7.5l0.1-2.5l0 1.1l0.1-1.3l0.1 4.3l0.2-8.8l0 4.8l0.2-11.1l0.1 9.5l0.1-12.2l0.3 11.2l0.1-2.9l0.1 0.8l0.1 5.6l0.1-5.6l0 4l0.1-3.7l0.2 9.9l0.3-9.3l0.2 5l0.1-3.6l0.1 4.2l0.1-4.6l0.1 2.5l0.1-4l0.1 7.5l0.1-3.3l0 0.2l0.1-0.4l0.1-7.3l0.2 10.8l0.3-7l0.2 7.2l0.1-9.4l0.1 7.1l0.2-1.5l0.1 2.7l0.1-6.3l0.1 5.7l0.1-5l0.2 11l0.3-11.5l0.1 8.2l0.2-11l0.1 10l0-3.8l0.1 2.1l0.2-13.4l0.3 6.3l0.5-42.5l0.1 8l0.1-1.6l0.2 3.5l0.3 27.5l0.3 3.2l0.1 7.4l0.2-6.3l0.1 5.5l0.1-3.8l0.1 11.2l0.1-14.8l0.2 11.1l0.1-9.7l0.2 11.5l0.3-7.7l0.1 4.5l0.1-8.2l0.2 7.2l0.1-4.7l0.1 9l0.2-2.1l0.1 1.7l0-3l0.1 2.1l0.1-1.4l0.1 1.1l0-6.2l0.1 1.2l0.1-1.2l0.1 6.3l0.2-6.4l0.2 6.3l0.2-5.6l0.2 7.5l0.1-8.1l0.1 7.6l0.2-11.1l0 6.6l0.1-9.5l0.1 4.3l0.1-13.2l0.1 4.9l0.2-13.5l0.2-2l0.2 14.6l0.1 3l0.1-2l0.3 16.5l0.1-6.4l0.3 3.5l0-2.5l0.2 6.7l0.1-5.2l0.1 2l0.1-4.8l0.1 10.8l0.1-10.7l0.2 9.9l0.2-6.8l0 8.2l0.2-9l0.2 3.4l0-3.2l0.3 5.1l0.1 0.4l0.1-3.3l0.1 3.2l0.1-3.4l0 4.6l0.2-5.3l0.1 5.6l0.1-9.4l0.2 4.7l0.2-6l0.3 13.7l0.1-11.5l0.1 8.2l0.1-4.3l0.1 3.1l0-7.7l0.1 7.2l0.3-9.5l0.1 0.4l0.1 5.1l0.3-15.5l0.4 13.3l0.1-1.3l0.1 2.4l0-0.6l0.2 1.1l0.2 7.2l0.1-5.5l0.1 4.3l0.1-8.1l0.1 4.6l0.1-1.9l0.1 1.9l0.1-2.7l0.2 3.2l0.2-3.3l0.1 3.6l0.1-4.4l0.2 8.5l0-4.9l0.2 2.9l0.1-4.8l0.1 11.2l0.1-12l0.1 10.7l0.2-13.4l0.1 10l0.2-8.2l0 1.5l0.1-0.8l0.1 0.5l0.1 4.2l0.1-9.8l0.4 13.7l0-12.1l0.1 6.8l0.1-1.1l0.1 1.9l0-7.5l0.1-0.7l0.1 2.8l0.1-0.6l0.1-8.2l0 5l0.2-4.6l0.1-14.5l0.1 7.5l0.1-6.3l0.4 18.5l0.1-4.6l0.1 4.8l0.1 0.5l0.2 12.1l0.1-5.4l0 1.3l0.1-1.5l0.1 4.2l0.2-6.3l0.1 8l0.1-5l0.1 4.4l0-4.1l0.1 7.1l0.1-5.8l0.1 1.3l0.1-3.1l0 3.8l0.2-7.6l0.1 6l0.1-5l0 9l0.2-4.8l0.1 2.2l0.1-10.9l0 13.8l0.1-7.3l0.2 10.8l0-13.9l0.3 6.8l0.1-7l0.1 10.7l0.1-7l0.1 3.8l0.2-7.9l0.2 9.9l0.1-4.8l0.2 2.3l0.1-2.6l0.2 7.6l0.2-12.5l0 10.1l0.4-8l0.2 6.1l0.1-7l0 7.5l0.1-4.2l0.2 2.8l0.1-2.2l0 9l0.3-8.1l0.1 1.5l0-1.6l0.3 3.7l0.1-6.9l0.1 4.5l0.1-4.4l0.1 5.4l0-1.7l0.2 1.7l0.1-3.3l0.1 7.3l0.1-7l0.2 4.3l0.1-5l0.1 4.9l0.1-10.8l0.2 9.6l0.1-4.1l0.2 10.4l0.3-10.7l0.1 5.2l0-1.2l0.2 4.1l0.1-4.6l0.1 0.9l0.1 4.7l0.1-10.6l0.1 4.8l0.1-2.1l0.1 4.6l0.1-2.6l0.1 2l0.3-8.7l0.1 4.6l0-2.9l0.2 3.1l0.2-6.9l0 6.1l0.1-4.1l0.2 6.5l0-2.6l0.1 7.7l0.3-14.2l0.1 9l0.2 2.7l0.1-4.2l0.3 5l0.1-3.4l0 5l0.2-6.5l0.1 5.9l0-10.9l0.1 7.6l0.1-3.3l0.2 7l0.1-4.3l0.1 4.7l0.1-6.7l0.1 5.7l0.1-1.2l0.1-6.7l0.2 7.2l0-3.1l0.1-0.9l0.2 2l0-3.1l0.1 5l0.1-8l0.2 11.9l0.2-15l0.2 6.3l0.1-2.6l0.1 6.6l0.1-10.5l0.1 1.1l0.2-5.1l0.1-11.3l0 9.3l0.3-14.8l0.6 32.8l0.3-8l0 8.5l0.1-10l0.2 10.2l0-6l0.3 9.5l0.2-8.9l0.2 6.8l0.1-14l0.1 8.3l0.2 1.1l0-0.9l0.1 4.9l0.1-7.8l0.1 5.6l0.1-8.4l0.4 9.2l0.2-1.7l0.1 0.4l0.2-5.2l0.5 9l0.1-11.4l0.2 13.7l0.2-7.9l0 5.7l0.1-5.6l0.1 6.8l0.1-6.7l0.1 3.6l0.1-6l0.2 10l0.1-9.8l0.2 3.5l0.1-2.3l0.1 6.5l0.1-3.9l0.1 2.7l0.2-5.2l0.2 6.8l0.1-7.2l0.3 6.5l0.2-8.1l0.1 6.5l0.3-7.9l0.1 7.9l0.1-12.8l0.1 7.9l0.2 3l0.1-1.3l0.2 4.4l0.1-4.1l0 5.8l0.4-9.9l0 3.5l0.1-2.5l0.2 3.7l0.1-8.8l0 8.7l0.2-3.3l0.1 2l0.2-10.7l0.1 3.3l0.1-2.2l0-8.9l0.1 1.5l0.1-1.1l0.1 8l0.1-2.2l0.1 11l0.1-1.5l0.2 2.1l0-0.4l0.2 4.6l0.1-3.8l0.2 7.8l0.2-10l0 4.7l0.1-3.9l0.1 11.8l0.1-6l0.1-0.8l0.1 5.2l0.3-11.6l0 9.4l0.1-4.2l0.1 6l0.1-9l0.2 6l0.1-5.3l0.1 3.5l0-3.1l0.2 0.5l0.1 7.1l0.1-8.7l0.1 6l0.2-7.4l0.1 10.4l0.2-9.5l0.1 6.5l0.3-11l0.1 4.7l0.1-2.7l0.3 7l0-15.2l0.3 11.6l0.3-2.9l0.1 2.7l0.1-6.1l0.1 14.6l0.1-3.3l0.1 4.5l0.1-4.8l0.1 1.2l0.1-8l0.1 8.3l0.2-7.8l0.1 5.2l0-4.1l0.2 9.2l0.1-8.6l0.1 5.5l0.3-4.4l0.1 1.6l0-6.5l0.2 11.8l0.1-7.7l0.2 7.5l0.2-6.7l0.1 8.5l0.4-15l0.1 7.7l0.1-5.2l0.2 11.4l0.3-8.8l0.1 6l0.1-4.1l0.1 5.7l0.3-6.2l0.1 6.6l0-1.7l0.1 0.6l0.1 2.9l0.1-10.4l0.1 7.3l0.1-1l0.2 0.5l0-6.4l0.2 8.7l0.2-4.4l0 3.4l0.1-8.3l0.2 10.5l0.1-7.5l0.1 4.3l0.2-4.3l0.1 3.2l0-5.9l0.1 7.5l0.1-6l0.1 6.2l0.1-2.4l0.3 6l0.3-11.2l0.1 9.4l0.1-6.5l0.2 4.9l0.1-4.7l0.1 6.7l0.1-9l0.3 8.7l0.2-4.2l0 3.6l0.2-11.4l0.2 2l0.1-9.7l0.1 11.3l0.1-13.1l0.3 14.3l0.1-2.5l0.1 4.4l0.2-4.7l0.3 9.5l0.1-5.6l0.1 4.3l0-2.2l0.1 2.7l0.2-4l0.1 5.5l0.1-4l0.2 2.2l0-4.8l0.3 6.9l0.1-7.4l0.1 0.3l0.1 1.9l0.1-2.1l0.1 0.8l0 4.3l0.1-5.1l0.1 3.4l0.1-3.7l0.1 5.4l0.1-8l0.1 6.5l0.1 0.5l0-0.9l0.2 1.3l0.1-5.5l0.2 7.5l0.1-8.7l0.1 1.9l0.1-3l0 3.6l0.2-4.2l0.1 10l0.1-13.1l0.1 12.3l0.1-7.4l0.2 8.5l0.2-5.8l0.1 5.4l0.1-5.2l0.1 4.2l0.1-1.2l0 0.6l0.1-0.5l0.2 2.6l0.2-9.2l0.3 9l0-5.5l0.4 7.3l0-6.5l0.2 6.1l0.1-6l0 1.9l0.1-3.1l0.2 6.1l0.2-3.9l0.1 5.8" stroke="#ff0000" stroke-width="1"/>
<path d="M396.4 256.4l0.1 6.7l0.2-2.8l0.1 5.8l0.1-5l0.1 8.3l0.2-12.2l0.4 12.5l0.2-4.7l0.1 2.7l0.1-7.5l0.1 5.6l0.2-4.1l0 8.9l0.2-9.9l0.2 11.3l0-10.4l0.1 4l0.2-0.9l0.1 0.3l0-4.3l0.2 1.4l0.1-0.8l0.1 7.6l0.1-9.8l0.1 5.8l0.1-6.1l0.2 4.4l0.2-10.9l0 16l0.1-6.6l0.1-1.5l0.1 5.3l0.1-8.5l0.1 7.8l0.2-5.3l0 6.7l0.2-7.9l0.1 11.6l0.1-11.6l0.3 8.4l0.1-9.3l0 9.6l0.3-1.7l0.1 2.8l0.2-8.6l0.1 7.8l0.2-3.9l0.1 2.3l0.1-13l0 11.4l0.1-11.3l0.3 17.6l0.3-16.6l0 11.8l0.3-6.7l0.2 8.9l0.1-4l0.1 12.8l0.1-15.7l0.1 1.4l0.1-3l0.1 9.3l0.1-11.3l0.2 9.7l0.1-10.3l0.2 14.9l0.2-11.7l0.1 9.8l0.1-9.5l0.1 10.9l0.1-15.4l0 5.4l0.2-2.1l0.2 5.4l0.1-8.6l0.2 11.4l0.2-16.4l0.1 14.3l0.1-9.6l0.1 13.7l0.1-13.8l0.1 5l0.1-7.8l0.2 8.1l0.1-6.5l0.1 7.7l0.2-8.7l0.1 10.9l0-5.8l0.1 4.8l0.1-10.1l0.1 10.5l0.1-14.6l0.1 4.7l0.2 1.6l0.1-3.9l0.1 5.9l0.2-12.7l0.1 6.4l0.3-12.2l0.1 2.8l0.1-9.9l0.1 3.9l0.5-78.5l1.5 0l0.6 77.2l0.1-6.1l0.1 16.9l0.2-4.4l0.1 3l0-1l0.1 11.4l0.1-4.6l0.1 0.4l0.1-0.8l0 3.8l0.2-1.9l0.4 11.3l0.1-4.4l0.1 1.8l0.1-3.7l0.1 8.2l0.1-10.4l0.1 11.5l0.2-6.7l0 6.2l0.1 0.2l0.1-0.8l0.1-7.2l0.1 5.5l0-4.6l0.1 1.8l0.1 0.3l0.1-0.9l0.1 5.4l0-5l0.1 5.7l0.2-4.6l0.2 7.2l0.1-5.4l0.1 7.9l0-4.5l0.1 2.8l0.1-10.2l0.2 10.2l0-5.5l0.2 5.7l0.1-10.3l0.1 13.4l0.2-7.2l0.1 2l0.1-2.2l0.1 5.2l0.1-5.9l0.1 3.1l0-1l0.2 2.2l0.1-7.4l0.1 8.8l0.3-10.2l0.1 7.1l0.1-5.8l0.3 1.9l0.1-1.4l0.1 6.5l0.1-5.4l0.1 7.1l0.1-6l0.1 5.7l0.1-8.3l0 10.4l0.1-7.3l0.1-1.9l0.1 5.3l0.1-6.8l0.1 6.2l0.1-2.8l0.1 3.5l0-1l0.1 0.5l0.1-0.5l0.1 2.3l0.1-2.8l0.1 3.8l0.1-11.4l0.2 13.8l0-7.8l0.1 2.5l0.1-1.2l0.1 1.6l0.1 7.5l0-11.3l0.2 2.8l0.1-4.2l0.3 5.7l0.1-9.1l0.1 14.1l0.1-7.1l0.1 3.9l0.1-6l0.1 11l0.1-13l0.2 7.5l0.1-9l0.2 9.2l0-8.8l0.3 13.4l0.1-16.4l0.1 9.1l0.2-3.6l0.1 5.5l0.1-6.2l0.1 7.5l0.2 0l0 2.6l0.1-8l0.2 6.9l0.4-10l0 3.4l0.1-1.8l0.2 2l0.1 4.7l0.2-7.7l0.2 7.6l0.1-2.5l0.1 2.3l0.1-5.7l0.1 5.3l0.2-5.8l0.1 7.6l0-8.6l0.1 6.4l0.1-3.7l0.1-0.4l0.1 0.3l0-0.8l0.2 8.5l0.1-7.6l0.2 3.9l0.1-5.3l0.1 8.6l0.2-11.1l0.1-0.8l0.1 1.5l0.1 6.2l0.3-8.7l0.1 3.9l0.2-8l0.1 9.7l0.2-11l0.1-2.7l0.1 1.8l0.2-5.8l0.5-89.7l0.4 0l0.5 95.9l0.1 2.9l0.1-6.1l0 7.9l0.1-8.9l0.3 15.4l0.1-11.3l0.1 11l0.1-5.3l0.2 7.5l0.2-11.7l0.2 11.3l0.2-6.4l0.2 5.6l0.1-10.1l0.2 10.5l0.2-6.9l0.1 9.9l0.2-12.6l0.1 9.1l0.1-11.3l0.3 8.6l0-5.2l0.1 3.6l0.1-1.3l0.1 1.7l0.1-9.9l0.3 11.8l0.1-10.1l0.2 4.7l0.1-6.1l0.4 7.8l0.1-1.1l0.1 1.2l0.2-3.8l0.1 5.7l0.1-5.8l0.2 7.2l0.1-14.9l0.2 11.5l0.2-9.7l0.1 5.1l0.1-7.4l0.1 6.9l0.1-3.3l0.1 3.1l0-4.4l0.1 4.2l0.3-3.4l0 5.9l0.2-6.9l0.1 4.4l0.1-6.3l0 2.2l0.1-9.3l0.2 13.3l0-4.7l0.1 3.9l0.1-4.9l0.1 3.4l0.1-5.3l0.1 11.4l0.2-13.5l0.1 5.4l0 1l0.2-2.6l0.2 3.4l0.1-9.2l0.1 11.5l0.1-14.7l0.1 10.6l0.1-4l0.2 7.6l0-9.8l0.2-2.2l0.2 5.6l0.2-11.3l0.2 11.5l0.2-8.9l0.1 4.4l0-7.1l0.1 12.7l0.3-12.9l0.1 7.4l0.1-6.3l0.2 4.3l0.1-1.9l0.1 1.8l0.1-10.6l0 14.5l0.2-15.6l0.3 9.5l0.2-14.6l0.4-11.1l0.1 2.6l0.4-57.7l1.5 0l0.3 42.8l0.3 11.9l0.1-5l0 12.7l0.4 5.4l0.1-0.7l0.2 6.4l0-9.5l0.1 11.8l0.2-5.9l0.1 6.5l0.1-2.8l0.1 8.7l0.2-10l0.1 13.3l0.1-7l0.1 0.7l0-1.7l0.1 8.8l0.1-8l0.1 6.7l0.2-2.9l0.1 2.2l0.2-13.8l0.1 14.4l0.1-11.7l0.2 19.6l0-18.5l0.1 9.5l0.2-9.3l0.2 14l0.1-6.6l0.2 0.9l0.2 8.6l0.1-15.1l0.1 10.1l0.3-8.1l0.2 7.1l0.1-6.8l0.1 7.4l0.2-8.7l0.1 10l0.2-3.9l0.1 3.5l0.1-4.6l0.1 4.6l0.2-4.1l0.3 6.4l0.2-7l0.3 6.8l0.2-3.1l0.2 6.8l0.2-16.7l0.1 12.9l0-7.9l0.3 11.4l0.1-6.1l0.1-1.4l0.1 3.3l0.1-5.6l0.2 9.7l0.1-6.1l0.2 2l0.1-4.2l0.3 7.6l0.1-6l0.2 5.5l0.3-4.5l0.1 1.4l0-0.9l0.1-5.7l0.1 3.7l0.1-6.4l0.1 11.6l0.1-5l0.1 1.3l0.1-4.1l0.1 3.8l0.6-48.6l0.2 31.7l0.4 14l0.1 10.6l0.1-7.4l0.1 8.5l0.1-4.3l0.1 4.1l0.1-9.7l0.1 8.2l0.1-0.7l0.2 4.2l0-2.2l0.1 2l0.1-1.1l0.1-5.3l0.1 7.8l0.1-8.1l0.2 8.8l0.1-10.9l0.1 15l0.1-14.3l0.1 15.3l0.1-14.2l0.1 13.4l0.1-7.2l0.1 6.2l0.2-9.6l0.1 1.9l0.1-3.7l0.1 6.6l0.1-6.6l0.1 6.7l0.3-5.4l0.1 7.6l0-6.3l0.4 11.2l0.1-4.2l0.2-0.2l0.1-3l0.1-5.5l0.3 15l0.5-13l0.2 8.2l0.3-6.4l0.1 5.4l0.1-8.2l0.1 7.6l0.1-5.5l0.1 4.9l0.1-3l0.2 3.8l0-3.6l0.1 6.2l0.2-0.3l0.1-5.8l0.3 6.9l0-4.6l0.2 5l0.1-4.1l0.1 3.8l0.1-7.7l0.1 5.1l0.1 0.7l0.1-2.1l0 8.5l0.2-12.3l0.3 14.4l0.2-12.3l0.1-1l0.2 2.2l0.1-1.4l0 1.2l0.2-5.8l0.2 4.9l0-9l0.1 4.1l0.1-1.4l0.5-92.1l0.2 0l0.3 72l0.4 30.7l0.1-6.2l0.1 5.4l0.1-10.7l0.1 14.7l0.1 1.3l0.1-3l0 5.9l0.2-11.9l0.2 8.1l0.2-8.7l0.2 12.7l0.2-8.6l0.2 9.7l0.1-8l0.2 8.6l0.1-8.6l0.1 6.3l0.2-3.8l0 8.9l0.1-7.1l0.2 6.4l0.2-8l0.1 2.1l0.1-2.2l0.1 2.1l0.1-4.9l0.1 2.6l0.1-2.2l0.1 8.2l0.3-6.3l0 3.3l0.1-4.6l0.1 7l0.1-7.6l0.1 11.9l0.2-9.7l0.1 2.8l0-2.9l0.2 2.2l0.1-1.5l0.1 7l0.1-7l0.1-0.2l0.2 1.1l0 2.7l0.2-3.7l0.1 6.7l0.2 0.2l0.2-7.4l0.1 11.3l0.1-10.4l0.2 6l0.1-2.8l0.1 5.9l0.2-10.8l0.3 6.1l0.1-8.1l0.1 4.7l0.1-4l0.1 5.4l0.3-15l0.1 4.4l0.4-37.8l0.3-60.7l0.8 0l0.3 75.2l0.3 18.1l0.1 5.1l0.1-6.2l0.3 19.6l0.1-5.4l0.3 4.3l0.1-8.4l0.2 15l0.3-12.9l0.1 10.3l0-7.2l0.1 5l0.1-0.7l0.1 1.3l0.1-4.1l0.1 6.4l0.1-5.2l0.1 3.2l0.1-2.7l0 3.1l0.2-0.4l0.1-2l0 7.3l0.3-11.9l0.1 10.1l0.2-9.3l0.1 14.3l0.1-13.1l0 5.5l0.3-5.2l0.1 14.2l0.1-8.1l0.1 3.5l0.1-6.7l0.1 10.4l0.2-10.5l0.1 4.2l0.1-0.9l0.1 0.7l0.1-2l0.1 2.2l0.2-2.3l0.1 8.3l0-7.1l0.2 2.6l0.2-5.5l0 7.8l0.1-7.4l0.2 5.9l0.1-4l0.1 2.6l0.1-3l0.1 0.9l0.1-2.2l0.4 7.7l0.2-9.8l0.1 13l0.1-16.8l0.1 9.4l0.2-4.6l0 8.1l0.4-10.1l0.1 8.1l0.2-15l0.1 12.5l0.1-6.9l0.2 8.5l0.1 0.9l0.1-3.3l0.2 5.5l0-5.9l0.2 5.2l0.1-4.5l0.1 9.4l0.3-16l0 14.3l0.4-6.6l0 10.1l0.1-3.9l0.1 4.9l0.2-14.4l0 8.7l0.1-9.5l0.1 8.7l0.1-3.3l0.1 4.4l0.2-3.4l0.1 4.5l0.1-1.6l0.1 1.4l0.2-4.5l0.1 2.4l0.1-3.3l0.2 5.4l0.3-4l0 5.9l0.3-8.6l0.1 1.7l0-2.1l0.1 6.1l0.2 0.8l0.1-3.4l0.1 2.5l0.2-7.1l0.1 12.9l0.3-9.4l0 2.4l0.1-1.5l0.1 5.5l0.2-6.3l0.1 12.3l0.1-9.7l0.2 7.5l0-10.6l0.2 7.6l0.1-6.4l0.4 5.8l0-10.5l0.1 7.2l0.1-2.8l0.1 3.6l0.1-2.4l0 2.7l0.1-6.5l0.3 10.9l0.2-7.5l0.1 6.7l0-3.3l0.1-0.2l0.1 1l0.1-7.1l0.1 1.9l0.1-0.7l0.1 9.4l0.1-11.9l0.1 5.9l0.1-2.5l0.1 4.5l0.2-5.8l0.1 9.2l0.1-6l0.1 3.4l0.2-4.6l0.2 6.4l0-8.7l0.1 7.9l0.1-1l0.1 2l0.2-6.4l0.1 4.9l0.2-3.9l0.1 5.8l0.1-0.8l0.1 0.5l0-5.8l0.2 5.5l0.1-8l0.1 5.6l0.1-6l0.2 5.5l0.1-5.5l0.2 9.6l0.1-6.1l0.2 3.2l0.1-7.8l0.1 9l0.3-6.4l0.1 5.4l0.1-1.4l0.1 0.5l0.1 5.9l0.2-9.8l0.2 8l0-8.3l0.1 0.3l0.1-1l0.1 8.3l0.1-5.6l0.1 7.3l0.3-10.1l0 8.3l0.4-6.5l0.1 3.1l0.1-4.6l0.4 10.1l0.6-22.4l0.3 4.5l0-5.5l0.2 2.4l0.1-0.8l0 9.9l0.1-1.7l0.1 1l0.1-0.2l0.1 9.8l0.4-10.6l0.2 13.1l0.1-10.6l0.1 10.5l0.2-6l0.1 3.7l0.2-5.1l0.2 4.9l0.1-5.6l0.2 3.8l0.1-2l0 1.1l0.1 7.4l0.1-12l0.3 12.2l0.2-9.5l0.2 7.9l0.2-9.9l0.1 10.3l0.1-5.5l0.1 5.2l0.1-4.5l0.1 2.6l0.1-2l0.1 3.3l0.1-6l0.1 2.2l0.1-1.9l0.1 1.1l0 3.5l0.2-3.1l0.1 6.3l0.1-10.6l0.2 8l0.2-1.5l0 3.3l0.2-7.6l0.1 7.8l0.1-8.6l0.4 5.9l0.1-8l0.1 3.7l0.1-3.6l0.1 8.6l0.4-7.1l0.2 4.6l0-4.7l0.4 12.7l0.1-14.1l0.3 10.7l0.1-10.1l0.2 9.4l0.2-6.5l0.1 3.2l0.1-2.6l0 1.2l0.1-0.3l0.3 4.9l0.2-9.8l0.1 8.1l0.1-3.6l0 4.7l0.3-8l0.1 7.5l0.1-5.7l0.1 4.2l0.1-8.1l0.3 8.6l0.1-7.3l0 7.8l0.1-2.4l0.1 3.4l0.2-5.3l0.2 5.7l0.1-6l0 1.4l0.1-2.4l0.3 8.3l0-5.3l0.1 1.2l0.1-0.6l0.1 3.3l0.1-4.5l0.1 2l0.1-2l0.1 1.7l0.1-2l0.1 4l0.2-4.3l0.1 7.3l0.2-6.9l0.1 3l0-0.8l0.1-5.3l0.1 7.1l0.2-6.1l0.1 3.1l0.2-2.8l0 3.1l0.1-10.9l0.2 3.3l0.1-2.7l0.1-14.3l0.1 5.9l0.2-13.8l0.2 5.9l0.1-8.9l0.3 23.1l0.1-5l0.2 16.3l0.1-1.9l0.1 5.5l0.1-6.5l0.1 2.3l0.2-2.4l0 6.4l0.3-8.1l0.3 8.5l0.1-0.9l0.1 2.7l0.2-4.2l0.1 7.2l0-9.8l0.2 5.5l0.2-2.6l0.1 3l0.3-8.3l0 4.7l0.3-3.3l0.2 4.7l0.2-4.8l0 8.5l0.2-5.7l0.1 2.8l0.1-1.6l0.1 2.5l0.2-8.1l0 8.9l0.2-5.7l0.1 7.4l0.1-3.9l0.2 4.4l0.2-6.8l0.1 2.3l0.1-2.1l0.2 4.6l0-3.3l0.1 2.9l0.1-7.6l0.1 7.6l0.1-12.6l0.2 6.9l0.1-9.3l0.1 4l0.2-5.3l0.1 4.6l0-5.3l0.2 5.6l0.1-5.3l0.1 10.2l0 2l0.1-2.8l0.2 6.9l0-3.9l0.1 3.2l0.2-1.1l0.1 2.2l0-7.8l0.4 9.5l0.1-8.7l0.1 9.7l0.2-7.8l0.2 5.2l0.1-5.2l0.1 9.1l0.1-5.8l0.2 4.7l0.1-12.9l0.1 8.2l0.1-0.9l0.2 6.1l0.1-11.6l0.3 11.9l0.3-11.3l0.3 9.2l0.2-7.4l0.1 9.5l0.1-8.1l0.1 1.3l0.1-12.4l0.1 12.3l0.1 1.9l0.3-5.2l0.2 8.5l0.2-16l0.1 9l0.1-7.7l0.2 1.4l0.7-50.8l0.5 39.9l0.2 5l0.1-3.3l0.1 8.3l0.1-2l0.1 10.5l0-6l0.1 12.6l0.1-11.4l0.3 9.2l0.1-6.9l0.2 7.7l0-6.6l0.1 12.1l0.1-13.4l0.1 7.4l0.3-3.7l0.1 3l0.1-4.4l0.1 9l0.1-12.2l0.1 8.7l0.2-10.2l0.2 12.6l0.1-4.5l0.1 4.5l0.1-3.9l0.1 0.5l0.1 3.4l0.2-10.3l0 10.8l0.1-4.2l0.2 3.4l0.1-3.8l0.1 5.2l0.2-5.6l0.1 1.6l0.2-3l0.1 4.8l0-5.8l0.4 8.6l0-7l0.3 5l0.1-3.5l0 2.3l0.1-6.9l0.2 10.1l0.1-4.9l0.1 3.6l0.2-6.2l0 3.3l0.1-1.9l0.2 1.4l0.2 4.9l0.1-7.6l0.2 7l0.1-6.4l0.1 8.1l0.2-7.3l0.1 5.9l0.2-4.2l0.1 1.9l0.1-2.4l0.2 5l0.1-9.5l0.2 10.9l0.1-7.6l0 3.1l0.3-3.9l0 3.5l0.1-6.7l0.2 14.6l0.1-15.4l0.1 6.3l0.1-2.9l0.1 4l0.1-2.1l0.2 2.8l0.1-0.5l0.2 5.4l0.2-5.7l0 3.3l0.1-2.3l0.1 1.4l0.2-7.6l0 8.1l0.1-7.9l0.2 3.8l0.1-2.1l0 5l0.2-1.2l0.1 3.8l0.2-9.3l0.1 1.4l0.1-0.7l0.1 7.3l0.3-13.1l0 12.1l0.1-9l0.1 4.6l0.1-5.3l0.1 8.2l0.1-4.9l0.2 8.6l0.1-6.3l0.1 2.2l0.1-2.5l0.1 3.7l0.1-4l0.2 8.3l0.1-10.4l0 7.9l0.3-2.2l0.1 1.1l0-8.8l0.1 6.4l0.1-6.5l0.1 6.5l0-0.4l0.2 2l0.1-3.7l0.1 7.1l0.3-7.1l0.1 5.2l0.2-1.9l0.1 3l0.2-4.1l0.2 1l0.2-6.1l0.3 9.2l0.1-5.7l0.2 4.6l0-9.3l0.1 9.9l0.1-10l0.2 1.4l0.1-1.7l0.2 5.9l0.1-2.1l0.1 1l0.3-15.5l0.1 2.9l0.2-14.3l0.5 20.5l0.1-6.5l0.1 14.2l0.1-5.8l0.2 7.5l0.1-9.2l0.3 10.3l0.4-3.8l0 1.9l0.1-0.9l0.1 1l0.2-2.9l0 4.7l0.1-3.3l0.2 5.3l0.1-6.5l0 10.5l0.2-12.4l0.3 9.1l0.1-2.7l0.1 3.5l0-11.5l0.1 9.2l0.2-5.3l0.1 10.4l0.4-12l0.1 6.8l0.3-3.9l0.2 7.6l0.1-5.6l0 2l0.4-3.9l0 0.9l0.1-7.2l0.3-6.2l0.1 2.8l0.2-6.4l0.1 5.2l0.1-3.8l0.3 17.1l0.1-2.9l0.2 5.1l0.2-9.2l0.3 13.5l0.4-12.6l0.1 7l0.1-3.4l0.2 7.7l0.1-5.9l0.2 2.2l0.1-3l0.1 2.2l0.1-1.9l0.1 6.7l0.1-5.3l0.1 5l0-3.6l0.1 3.1l0.2-9.3l0.1 2.7l0-2.7l0.1 6.6l0.1-5l0.1 6.7l0.3-10.3l0.3 9.1l0.1-5.2l0.2 6.8l0.1-6.2l0.2 5.7l0.4-4.7l0-5.8l0.1 7l0.2-3l0.2-12.7l0.3 13.8l0.1-1.6l0.1 3.4l0.1-6.1l0 13.1l0.1-9.7l0.2-0.8l0.1 6.8l0-8.8l0.2 11.5l0.1-9.3l0 2.2l0.1-1l0.1 6.2l0.1-5.3l0.1 3.1l0.2-6.7l0.1 7.8l0.1-3.2l0.1 2.7l0.1-1.7l0.2 2.1l0.1-3.8l0.1 4.7l0.2-4.7l0.1 5.1l0.2-7.1l0.1 10.8l0.1-10l0.2 2.8l0-2.9l0.1 9.1l0.2-8.8l0.1 3.8l0.1-4.3l0.2 7.9l0.2-7.7l0.1 0.9l0.1-1.5l0 2.5l0.2-3.2l0.1 2.7l0.1-9.3l0.1 6.4l0.1-8.8l0.1 2.2l0.2-5l0.2 6.8l0.1-6l0.1 14.4l0.1-7.5l0.1 13.8l0.1-8.3l0.1 4.5l0.1-5.2l0.1 9.8l0-8.7l0.1 7.9l0.1-4.7l0.1 5.1l0.3-10.4l0.1 10.1l0.1-4.8l0.2 4l0.1-1.6l0 0.7l0.1-0.4l0.2-4.5l0.1 2.6l0-2.2l0.1 2.7l0.1-5.4l0.1 8.2l0.1 1.3l0.1-4.3l0.2 7.3l0.2-10.2l0.2 4.1l0.2-7.2l0.1 9.3l0.1-7.4l0 11l0.2-8.6l0.2 2.8l0.2-4.7l0.1 3.2l0.1-2.4l0.2 4.9l0.1-3.2l0.1 1.7l0.1-5.7l0.2 8.7l0.2-5.6l0.1 7.3l0-8.7l0.1 8.1l0.4-8.5l0.1 7.8l0.2-6l0.1 6l0.2-4.4l0 1.6l0.1-1.4l0.2 6.1l0.1-12l0.3 9.4l0.1-10.3l0.1 6.9l0.2-4.7l0.1 6l0.1-2.8l0.1 6l0.1-4.8l0 4.2l0.1-10.1l0.1 8l0.1-2.5l0.1 2.1l0.2 1l0.1-1.4l0.1 1.4l0.1-9.3l0.1 6.7l0.1-4.8l0.1 3.5l0.2 2.7l0.1-2l0.1 3.5l0.2-6.4l0.1 5l0-4.2l0.2 8.2l0.1-6.3l0.1 3.1l0.2-7.1l0.1 5.7l0.1-4.7l0.1 5.2l0.2-6.1l0.2 7.2l0.1-6.1l0.1 7.3l0.1-6.6l0.1 12.3l0.2-11.1l0.2 10.5l0.1-10.8l0.2 8.5l0.2-6.5l0.1 7.8l0.1-8.8l0.1 0.7l0.1-2.2l0.2 6.1l0.1-6.5l0.1 3.4l0-2.7l0.1 5.2l0.1-4.4l0.1 3.7l0-5.4l0.1 7.6l0.1-4.5l0.1 3.7l0.1-5.8l0.2 7.9l0.1-5.9l0.1 3l0.1-4.9l0.3 4.9l0-6.5l0.2 3l0.2-8.8l0.1 2.2l0.1-4.5l0.1 3.2l0.1-10.3l0.3 12.5l0.1 0.3l0.1 1.8l0.1 6.5l0.1-4l0 6.1l0.3-5.4l0.1 2.4l0.1-4.4l0.1 3.9l0.1 0.6l0-0.8l0.1 2.1l0.1-3.1l0.2 5l0.2-3.1l0.1 1.5l0.2-3.1l0.2 3.7l0.2-3.3l0.1 3.9l0.1-3.7l0.2 7.2l0.2-8.9l0.2 7.7l0.1-4.9l0 5.5l0.1-4.2l0.3-2.7l0.2 6l0.2-8.9l0 8.8l0.1-4.5l0.1 5l0.2-7l0 6l0.1-5.8l0.1 2l0.1-2.2l0.1 7.3l0.2-6.7l0.1 5.9l0.1-3.2l0.1 1.5l0.1-1.1l0.1 3.4l0-10.5l0.4 10.6l0.1-7.7l0.1 8.9l0.1-12.3l0.2 15.2l0.2-8.8l0.1 6.4l0.3-10.1l0.3 8.2l0-5.1l0.1 5.8l0.1-3.8l0.1 6l0.2-14.6l0.1 10.3l0.2-3.9l0.3 6l0.1-7.6l0.1 6.5l0.2-3.5l0 5.2l0.1-7.5l0.1 2.7l0.2-2.9l0 2.8l0.3-9.6l0.1 1.8l0.1-5.7l0.4 14.5l0.1-4.4l0.1 6.6l0.1-4.3l0.1 1.7l0.2-0.4l0.1 1.4l0.1-3.6l0.2 4.9l0-2.1l0.3-1l0.1 5.1l0-5.6l0.3 5l0.2-7.6l0.2 4.9l0.1-4.5l0.1 5.5l0.1-7.2l0.1 7.5l0.2-6.6l0.3 4.8l0.2-4.7l0 6.9l0.1-4l0.1 4.6l0.1-4.5l0.1 4.4l0-7.6l0.2 6.7l0.1-7.8l0.3 9.8l0.1-6.6l0 3.9l0.1-5l0.1 4.7l0.1-5.1l0.2 8.4l0.2-10.2l0.4 13.3l0.1-7l0.1 5.3l0.2-13.3l0 11.5l0.3-6.3l0.1 10.2l0.2-9.4l0.1 4.2l0.1-5.4l0 7.2l0.2-3.7l0.1 2.7l0.1-5.3l0.3 9.5l0.1-9.3l0.3 4.7l0-6.5l0.1 7.9l0.1-4.7l0.2 5.8l0.3-9.1l0.2 8.4l0.3-5.9l0.1 2l0.1-1.5l0.1 1l0.1 4.8l0.1-4.4l0.1 8l0.1-8.1l0.2 6.1l0.1-9.8l0.1 10l0.2-9.4l0.3 7.5l0.1-7.5l0.1 8.5l0.2-6.9l0.1 2.2l0.1-0.5l0 7.4l0.2-7.2l0.2 2.1l0.3-3.1l0 4.1l0.1 0.4l0.2-2.8l0.1 3.8l0.1-11.7l0.3 8.8l0.1-3.1l0.2 3.8l0-4.1l0.1 2.5l0.1 0.3l0.1-1l0.1 10.3l0.2-12.5l0.2 3.2l0.1-3.8l0.2-1.2l0.1 2l0.1-8.4l0.1 5.8l0.1-3.9l0.3 13l0.1-5.5l0 5.4l0.1-5.5l0.2 4.4l0.1-5.8l0.1 5.8l0.1-6.9l0.1 7.2l0.1-8.3l0.2 7.6l0.2-6.6l0.1 10.2l0.2-5.8l0.1 1.7l0.1-0.9l0.2 3l0-4.4l0.2 4.1l0.1-4l0.1 3.2l0.2-3.9l0.1 2.2l0-1.9l0.1 4.4l0.2-4l0.1 4.8l0.2-7.4l0.2 9.4l0.1-5.9l0.2 4.6l0.1-0.9l0.1-11.4l0.1 10l0.4-9.7l0.1 6.4l0.1-3.3l0.1 5.1l0.1-0.6l0 1.5l0.2-4.9l0.1 6l0.1-5.6l0.3 8.8l0.1-12l0.1 11.1l0.1-5.9l0.1 1.6l0.1-1.9l0.1 4.5l0.2-3.8l0.1 3.5l0.1-3.4l0.2 7.8l0.2-7" stroke="#008000" stroke-width="1"/>
</g>
<path d="M396.2 162V308.7H618.1" stroke="#505050" stroke-width="1.5"/>
<path d="M396.4 308.7v1.6M412.2 308.7v1.6M428.0 308.7v2.2M443.8 308.7v1.6M459.6 308.7v1.6M475.3 308.7v1.6M491.1 308.7v2.2M506.9 308.7v1.6M522.6 308.7v1.6M538.4 308.7v1.6M554.2 308.7v2.2M570.0 308.7v1.6M585.8 308.7v1.6M601.5 308.7v1.6M617.3 308.7v2.2" stroke="#303030" stroke-width="0.8"/>
</g>
<text transform="translate(428.5,322.3) scale(1.28,1)" font-family="Liberation Serif, serif" font-size="8.2" text-anchor="middle">10</text>
<text transform="translate(491.6,322.3) scale(1.28,1)" font-family="Liberation Serif, serif" font-size="8.2" text-anchor="middle">20</text>
<text transform="translate(554.7,322.3) scale(1.28,1)" font-family="Liberation Serif, serif" font-size="8.2" text-anchor="middle">30</text>
<text transform="translate(617.8,322.3) scale(1.28,1)" font-family="Liberation Serif, serif" font-size="8.2" text-anchor="middle">40</text>
<rect x="45.7" y="57.5" width="588.4" height="470.4" fill="none" stroke="#000" stroke-width="2.3"/>
<path d="M45.70 527.9v11.8M62.51 527.9v6.0M79.32 527.9v6.0M96.13 527.9v6.0M112.95 527.9v6.0M129.76 527.9v11.8M146.57 527.9v6.0M163.38 527.9v6.0M180.19 527.9v6.0M197.00 527.9v6.0M213.81 527.9v11.8M230.63 527.9v6.0M247.44 527.9v6.0M264.25 527.9v6.0M281.06 527.9v6.0M297.87 527.9v11.8M314.68 527.9v6.0M331.49 527.9v6.0M348.31 527.9v6.0M365.12 527.9v6.0M381.93 527.9v11.8M398.74 527.9v6.0M415.55 527.9v6.0M432.36 527.9v6.0M449.17 527.9v6.0M465.99 527.9v11.8M482.80 527.9v6.0M499.61 527.9v6.0M516.42 527.9v6.0M533.23 527.9v6.0M550.04 527.9v11.8M566.85 527.9v6.0M583.67 527.9v6.0M600.48 527.9v6.0M617.29 527.9v6.0M634.10 527.9v11.8" stroke="#000" stroke-width="2.2" fill="none"/>
<text x="45.7" y="568" font-family="Liberation Serif, serif" font-size="26" text-anchor="middle">5</text>
<text x="130.4" y="568" font-family="Liberation Serif, serif" font-size="26" text-anchor="middle">10</text>
<text x="214.4" y="568" font-family="Liberation Serif, serif" font-size="26" text-anchor="middle">15</text>
<text x="297.9" y="568" font-family="Liberation Serif, serif" font-size="26" text-anchor="middle">20</text>
<text x="381.9" y="568" font-family="Liberation Serif, serif" font-size="26" text-anchor="middle">25</text>
<text x="466.0" y="568" font-family="Liberation Serif, serif" font-size="26" text-anchor="middle">30</text>
<text x="550.0" y="568" font-family="Liberation Serif, serif" font-size="26" text-anchor="middle">35</text>
<text x="634.1" y="568" font-family="Liberation Serif, serif" font-size="26" text-anchor="middle">40</text>
<text transform="translate(22.2,311.5) rotate(-90)" font-family="Liberation Serif, serif" font-size="31.4" text-anchor="middle">Intensity (a.u.)</text>
<text y="626" font-family="Liberation Serif, serif" font-style="italic"><tspan x="309.6" font-size="38.4">2</tspan><tspan x="331" font-size="36.2" stroke="#000" stroke-width="0.9" textLength="20.5" lengthAdjust="spacingAndGlyphs">θ</tspan> <tspan x="364.6" y="611.8" font-size="25">o</tspan></text>
<text x="41" y="36.3" font-family="Liberation Serif, serif" font-size="52">a</text>
<path d="M283.7 369.1H342.4" stroke="#000" stroke-width="2.2"/>
<text x="349" y="377.4" font-family="Liberation Serif, serif" font-size="25.6">ZIF-8</text>
<path d="M283.7 400.6H342.4" stroke="#0000ff" stroke-width="2.2"/>
<text x="349" y="408.7" font-family="Liberation Serif, serif" font-size="25.6">S-IL@ZIF-8</text>
<path d="M283.7 432.1H342.4" stroke="#ff0000" stroke-width="2.2"/>
<text x="349" y="441.1" font-family="Liberation Serif, serif" font-size="25.6">a<tspan font-size="17" dy="6">m</tspan><tspan dy="-6">(S-IL@ZIF-8)-15 mins</tspan></text>
<path d="M283.7 469.6H342.4" stroke="#008000" stroke-width="2.2"/>
<text x="349" y="478.5" font-family="Liberation Serif, serif" font-size="25.6">a<tspan font-size="17" dy="6">m</tspan><tspan dy="-6">(S-IL@ZIF-8)-30 mins</tspan></text>
<path d="M770.7 59.9V528.1" stroke="#000" stroke-width="2.2" fill="none"/>
<path d="M765.7 61H1109.5" stroke="#000" stroke-width="2.2" fill="none"/>
<path d="M765.7 527H1111.5" stroke="#000" stroke-width="2.2" fill="none"/>
<path d="M1110.5 59.9V528.1" stroke="#0000ff" stroke-width="2.2" fill="none"/>
<path d="M1110.5 61h5" stroke="#0000ff" stroke-width="2.2" fill="none"/>
<path d="M770.7 505.50h-10M770.7 484.32h-5M770.7 463.15h-10M770.7 441.98h-5M770.7 420.80h-10M770.7 399.62h-5M770.7 378.45h-10M770.7 357.27h-5M770.7 336.10h-10M770.7 314.92h-5M770.7 293.75h-10M770.7 272.57h-5M770.7 251.40h-10M770.7 230.22h-5M770.7 209.05h-10M770.7 187.88h-5M770.7 166.70h-10M770.7 145.52h-5M770.7 124.35h-10M770.7 103.17h-5M770.7 82.00h-10" stroke="#000" stroke-width="2.2" fill="none"/>
<path d="M1110.5 505.50h10M1110.5 484.32h5M1110.5 463.15h10M1110.5 441.98h5M1110.5 420.80h10M1110.5 399.62h5M1110.5 378.45h10M1110.5 357.27h5M1110.5 336.10h10M1110.5 314.92h5M1110.5 293.75h10M1110.5 272.57h5M1110.5 251.40h10M1110.5 230.22h5M1110.5 209.05h10M1110.5 187.88h5M1110.5 166.70h10M1110.5 145.52h5M1110.5 124.35h10M1110.5 103.17h5M1110.5 82.00h10" stroke="#0000ff" stroke-width="2.2" fill="none"/>
<path d="M779.50 527v9M796.90 527v4.5M814.30 527v9M831.70 527v4.5M849.10 527v9M866.50 527v4.5M883.90 527v9M901.30 527v4.5M918.70 527v9M936.10 527v4.5M953.50 527v9M970.90 527v4.5M988.30 527v9M1005.70 527v4.5M1023.10 527v9M1040.50 527v4.5M1057.90 527v9M1075.30 527v4.5M1092.70 527v9" stroke="#000" stroke-width="2.2" fill="none"/>
<text x="754.8" y="513.8" font-family="Liberation Serif, serif" font-size="30.4" text-anchor="end">0</text>
<text x="1127.6" y="513.8" font-family="Liberation Serif, serif" font-size="30.4" fill="#0000ff">0</text>
<text x="754.8" y="471.4" font-family="Liberation Serif, serif" font-size="30.4" text-anchor="end">10</text>
<text x="1127.6" y="471.4" font-family="Liberation Serif, serif" font-size="30.4" fill="#0000ff">10</text>
<text x="754.8" y="429.1" font-family="Liberation Serif, serif" font-size="30.4" text-anchor="end">20</text>
<text x="1127.6" y="429.1" font-family="Liberation Serif, serif" font-size="30.4" fill="#0000ff">20</text>
<text x="754.8" y="386.8" font-family="Liberation Serif, serif" font-size="30.4" text-anchor="end">30</text>
<text x="1127.6" y="386.8" font-family="Liberation Serif, serif" font-size="30.4" fill="#0000ff">30</text>
<text x="754.8" y="344.4" font-family="Liberation Serif, serif" font-size="30.4" text-anchor="end">40</text>
<text x="1127.6" y="344.4" font-family="Liberation Serif, serif" font-size="30.4" fill="#0000ff">40</text>
<text x="754.8" y="302.1" font-family="Liberation Serif, serif" font-size="30.4" text-anchor="end">50</text>
<text x="1127.6" y="302.1" font-family="Liberation Serif, serif" font-size="30.4" fill="#0000ff">50</text>
<text x="754.8" y="259.7" font-family="Liberation Serif, serif" font-size="30.4" text-anchor="end">60</text>
<text x="1127.6" y="259.7" font-family="Liberation Serif, serif" font-size="30.4" fill="#0000ff">60</text>
<text x="754.8" y="217.3" font-family="Liberation Serif, serif" font-size="30.4" text-anchor="end">70</text>
<text x="1127.6" y="217.3" font-family="Liberation Serif, serif" font-size="30.4" fill="#0000ff">70</text>
<text x="754.8" y="175.0" font-family="Liberation Serif, serif" font-size="30.4" text-anchor="end">80</text>
<text x="1127.6" y="175.0" font-family="Liberation Serif, serif" font-size="30.4" fill="#0000ff">80</text>
<text x="754.8" y="132.6" font-family="Liberation Serif, serif" font-size="30.4" text-anchor="end">90</text>
<text x="1127.6" y="132.6" font-family="Liberation Serif, serif" font-size="30.4" fill="#0000ff">90</text>
<text x="754.8" y="90.3" font-family="Liberation Serif, serif" font-size="30.4" text-anchor="end">100</text>
<text x="1127.6" y="90.3" font-family="Liberation Serif, serif" font-size="30.4" fill="#0000ff">100</text>
<text x="779.5" y="565.2" font-family="Liberation Serif, serif" font-size="30.4" text-anchor="middle">0</text>
<text x="814.3" y="565.2" font-family="Liberation Serif, serif" font-size="30.4" text-anchor="middle">10</text>
<text x="849.1" y="565.2" font-family="Liberation Serif, serif" font-size="30.4" text-anchor="middle">20</text>
<text x="883.9" y="565.2" font-family="Liberation Serif, serif" font-size="30.4" text-anchor="middle">30</text>
<text x="918.7" y="565.2" font-family="Liberation Serif, serif" font-size="30.4" text-anchor="middle">40</text>
<text x="953.5" y="565.2" font-family="Liberation Serif, serif" font-size="30.4" text-anchor="middle">50</text>
<text x="988.3" y="565.2" font-family="Liberation Serif, serif" font-size="30.4" text-anchor="middle">60</text>
<text x="1023.1" y="565.2" font-family="Liberation Serif, serif" font-size="30.4" text-anchor="middle">70</text>
<text x="1057.9" y="565.2" font-family="Liberation Serif, serif" font-size="30.4" text-anchor="middle">80</text>
<text x="1092.7" y="565.2" font-family="Liberation Serif, serif" font-size="30.4" text-anchor="middle">90</text>
<path d="M781.6 89.7L829.6 269.1" stroke="#000" stroke-width="2" fill="none"/>
<path d="M835.2 284.0L880.4 375.5" stroke="#000" stroke-width="2" fill="none"/>
<path d="M781.6 497.8L829.6 318.4" stroke="#0000ff" stroke-width="2" fill="none"/>
<path d="M835.2 303.5L880.4 212.0" stroke="#0000ff" stroke-width="2" fill="none"/>
<path d="M996.3 497.7L1084.7 504.9" stroke="#000" stroke-width="2" fill="none"/>
<path d="M996.3 89.8L1084.7 82.6" stroke="#0000ff" stroke-width="2" fill="none"/>
<rect x="774.0" y="76.8" width="11" height="10.2" fill="#000"/>
<rect x="826.2" y="271.6" width="11" height="10.2" fill="#000"/>
<rect x="878.4" y="377.5" width="11" height="10.2" fill="#000"/>
<rect x="774.0" y="500.3" width="11" height="10.2" fill="#0000ff"/>
<rect x="826.2" y="305.5" width="11" height="10.2" fill="#0000ff"/>
<rect x="878.4" y="199.6" width="11" height="10.2" fill="#0000ff"/>
<path d="M988.3 489.2L995.6 501.0H981.0Z" fill="#000"/>
<path d="M1092.7 497.6L1100.0 509.4H1085.4Z" fill="#000"/>
<path d="M988.3 82.6L995.6 94.4H981.0Z" fill="#0000ff"/>
<path d="M1092.7 74.1L1100.0 85.9H1085.4Z" fill="#0000ff"/>
<path d="M880.3 274H907.5M921.6 274H949.3M880.3 309.2H907.5M921.6 309.2H949.3" stroke="#000" stroke-width="2.2" fill="none"/>
<rect x="909.1" y="268.8" width="11" height="10.2" fill="#000"/>
<path d="M914.7 301.7L922.0 313.8H907.5Z" fill="#000"/>
<text x="955.5" y="284.2" font-family="Liberation Serif, serif" font-size="30.2">S-IL@ZIF-8</text>
<text x="955.5" y="319.1" font-family="Liberation Serif, serif" font-size="30.2">ZIF-8</text>
<text transform="translate(699.3,309) rotate(-90)" font-family="Liberation Serif, serif" font-size="31.3" text-anchor="middle">Crystallinity (%)</text>
<text transform="translate(1207.8,310.7) rotate(-90)" font-family="Liberation Serif, serif" font-size="31.4" text-anchor="middle" fill="#0000ff">Amorphous (%)</text>
<text x="938.6" y="623.2" font-family="Liberation Serif, serif" font-size="31.6" text-anchor="middle">Time (min)</text>
<text x="758.5" y="36.4" font-family="Liberation Serif, serif" font-size="52">b</text>
<defs><clipPath id="cc"><rect x="1296.3" y="61.3" width="588.2" height="470.3"/></clipPath></defs>
<path d="M1296.3 223.8H1884.5M1296.3 373H1884.5" stroke="#000" stroke-width="1.6" fill="none"/>
<g fill="none" stroke-linejoin="round" clip-path="url(#cc)">
<path d="M1296.3 218.5l2-0.8l2-1.4l3.6-3.3l5.2-4.5l1.2-0.6l3.2-0.8l1.2-0.8l0.8-1l0.8-1.3l5.2-12.2l1.2-2.4l1.2-1.8l0.8-0.8l1.2-0.5l1.2 0.1l2.8 0.9l1.2 0.2l0.8 0l1.2-0.3l1.6-0.9l1.6-1.5l1.6-2.1l1.6-2.6l3.2-5.6l1.6-2.5l1.6-1.7l0.8-0.5l0.8-0.3l0.8 0.1l0.8 0.3l1.2 0.9l1.6 2.3l1.6 3l1.6 4l4 11.4l6.4 17.3l1.6 3.7l0.8 1.2l0.4 0.4l0.4 0.1l0.4 0l0.4-0.3l0.4-0.6l0.8-2l1.2-4.4l0.4-1.1l0.4-0.4l0.4 0.4l2 7.1l0.8 1.6l0.8 0.6l0.8 0l0.8-0.4l1.2-1.1l1.6-2.2l1.6-3.1l1.6-3.9l3.2-8.6l2-4.5l1.2-2l0.8-0.9l0.8-0.6l0.8-0.3l0.8 0.1l0.8 0.3l0.8 0.7l0.8 1.1l1.2 2.1l3.2 6.7l0.8 1.3l0.8 1l0.8 0.6l0.4 0l0.8-0.2l1.6-1l0.4-0.1l0.4 0.2l0.8 0.9l2 4.3l0.8 1.2l0.8 0.7l0.4 0.1l0.8-0.2l0.8-0.7l0.8-1.4l0.8-2.7l0.8-4.1l1.2-9.4l2-19.3l0.8-4.8l0.4-1.1l0.4 0.1l0.4 1l0.8 4.6l2.8 24.8l1.6 10.9l0.8 3.9l0.8 2.9l0.8 2l0.8 1.5l0.8 1.1l0.8 0.8l2 1.3l3.2 1.3l4.4 1.1l4 0.7l2 0.1l3.6-0.6l3.2-0.9l3.2-1.4l1.6-1l1.6-1.3l2.8-2.7l5.2-6.1l2-2.1l2-1.7l3.6-1.9l1.6-1l1.6-1.5l1.2-1.5l1.6-2.8l1.2-2.7l1.2-3.1l3.6-10.5l1.6-3.9l1.6-3.2l1.2-1.8l1.2-1.2l0.8-0.3l2.4-0.4l0.8-0.3l0.8-0.7l0.8-1.4l1.2-3.3l2.4-8.8l1.2-3.9l0.8-1.9l0.4-0.7l0.4-0.3l0.4-0.1l0.4 0.2l0.8 1.2l0.8 2.5l0.8 3.3l1.6 8.8l3.6 23.2l2 10l1.2 4.4l0.8 2.1l0.8 1.1l0.4 0.2l0.4-0.2l0.4-0.5l0.8-1.9l0.8-2.7l0.8-3.7l0.8-5.1l0.4-3.4l0.8-10.2l0.8-18.7l0.4-13.7l1.2-52.1l0.4-11.9l0.4-3l0.4 5.3l1.2 27.8l0.8 10.2l0.4 2.8l2 9.7l1.6 10.4l1.2 9.6l2.8 26.3l1.6 12.1l1.2 7.2l0.8 3.9l0.8 3l1.2 3.6l1.2 2.6l1.2 1.9l1.2 1l1.6 0.7l2.8 0.8l3.2 0.5l4 0.4l4.8 0.1l2.4-0.1l2-0.3l1.6-0.7l1.2-0.9l1.2-1.5l0.8-1.3l1.2-2.5l0.8-2l1.6-4.8l4.4-14.6l1.2-3.5l1.2-2.4l0.8-0.7l0.4 0l0.4 0.2l0.8 0.8l1.2 2.4l1.2 3.6l3.6 13.3l1.2 3.1l0.8 1.4l0.8 1l0.8 0.7l0.8 0.4l3.2 1.3l3.6 1.2l4.4 1.9l1.6 0.6l1.2 0.2l1.2 0l1.2-0.3l1.2-0.5l0.8-0.6l0.8-0.8l1.2-1.8l1.2-2.6l1.2-3.8l1.2-4.9l1.2-6.1l3.2-21l0.8-4.4l0.8-2.9l0.4-0.7l0.4-0.3l0.4 0.4l0.4 0.8l0.8 3.2l0.8 4.5l3.2 21.2l1.2 6.2l1.6 6.4l1.2 3.4l0.8 1.7l0.8 1.3l0.8 1l1.2 1.2l2 1.3l1.2 0.3l1.2 0l3.6-0.7l0.8-0.3l0.4-0.5l0.4-0.7l0.4-1.2l1.6-6.1l0.4-0.5l0.4 0.6l0.4 1.4l1.6 7.7l0.4 1.3l0.8 1.5l1.2 1.1l2.8 1.5l1.6 0.7l1.6 0.3l9.6 0.4l15.2 0.3l9.6-0.2l7.2-0.3l4.8-0.4l4.4-0.6l2.4-0.6l6.8-1.9l2-0.4l1.2-0.1l1.2 0.1l2 0.3l7.6 1.8l3.6 0.7l2.4 0.3l3.6 0l3.2-0.3l2-0.6l2-1.2l3.2-2.8l1.2-0.5l0.8-0.1l0.8 0.2l2.8 1.4l1.2 0.4l1.2 0.2l1.2-0.3l1.2-0.7l1.6-1.4l1.2-1.5l0.8-1.4l0.8-2.2l0.4-1.6l1.2-6.4l1.2-8.7l1.2-11.6l0.8-10.9l1.6-28.2l0.4-4.3l0.4-1l0.4 2.3l1.6 20.5l0.4 3.7l0.4 2.6l0.4 1.6l0.4 1l0.4 0.5l1.6 0.7l0.4 0.3l0.8 1.2l1.6 3.7l2.4 6.8l0.4 0.7l0.8 0.4l0.4 0.7l0.4 1.9l1.2 7.9l1.6 7.6l1.6 5.9l2 5.6l0.8 1.7l1.2 1.7l1.6 1.4l2.4 1.6l2 1l1.2 0.1l1.6-0.4l2.4-1.1l2-1.3l1.6-1.4l1.2-1.7l0.8-1.9l0.8-3.6l0.8-6.8l0.8-11l1.2-20.2l0.4-3.9l0.4-0.3l0.4 3.1l1.6 23.5l0.4 4l0.4 2.5l0.4 0.9l0.4-0.5l0.4-1.8l0.4-3l1.2-12.5l0.4-2.8l0.4-0.5l0.4 2l0.4 4.1l1.6 18.3l0.8 5.1l0.8 2.7l0.8 1.5l0.8 1.1l0.8 0.8l1.6 1.1l1.2 0.5l1.6 0.4l1.6-0.1l1.2-0.5l0.8-0.4l1.2-1.1l3.2-3.6l0.8-0.6l0.8-0.3l0.8 0l0.8 0.4l0.8 0.7l2.8 2.8l1.6 1l1.2 0.2l0.8-0.1l1.2-0.5l0.8-0.7l1.2-1.4l0.8-1.3l1.6-3.6l2-6.2l4.4-15.7l1.2-2.9l0.8-1l0.4-0.2l0.4 0l0.4 0.3l0.4 0.4l0.8 1.5l1.2 3.5l2.4 8.6l0.8 2.2l0.4 0.7l0.4 0.6l0.4 0.2l0.4 0l0.4-0.2l1.2-1l0.4-0.1l0.4 0.2l0.4 0.6L1881.1 224.4" stroke="#000" stroke-width="2.3"/>
<path d="M1340.7 223.6l18.4-0.2l10-0.4l2.8-0.3l2-0.4l1.6-0.5l1.6-0.9l1.2-0.9l1.2-1.2l1.2-1.6l1.2-2l1.2-2.4l1.2-2.8l4.4-12l1.6-3.9l0.8-1.4l0.8-1.2l0.8-0.6l0.8-0.2l0.8 0.3l0.8 0.8l0.8 1.2l0.8 1.6l1.6 4l4 11l1.2 2.8l1.2 2.5l1.2 2l1.2 1.7l1.2 1.2l1.6 1.3l1.6 0.8l1.6 0.5l2 0.4l2.8 0.2l10 0.4l18 0.2" stroke="#0000ff" stroke-width="2.4"/>
<path d="M1427.5 223.6l23.6-0.3l13.2-0.4l3.6-0.3l2.4-0.4l2-0.6l1.6-0.9l1.6-1.2l1.6-1.7l1.6-2.4l1.2-2.3l1.2-2.7l1.6-4.3l4.8-15.3l1.6-4.5l1.2-2.6l0.8-1.1l0.8-0.7l0.8-0.2l0.8 0.4l0.8 0.8l0.8 1.4l1.2 2.7l1.6 4.6l4.4 14.1l1.6 4.4l1.2 2.8l1.2 2.3l1.6 2.4l1.6 1.8l1.6 1.3l1.6 0.8l2 0.7l2.4 0.4l3.6 0.3l13.2 0.4l23.6 0.3" stroke="#008000" stroke-width="2.4"/>
<path d="M1432.3 223.6l29.2-0.3l9.2-0.2l6.8-0.4l4.8-0.4l3.6-0.5l2.4-0.8l2-1.2l1.6-1.8l1.6-2.7l1.2-3l1.2-3.9l1.2-4.9l1.2-6l3.6-21l1.2-6.3l1.2-4.5l0.8-1.6l0.4-0.4l0.4 0l0.4 0.4l0.4 0.6l0.8 2.3l0.8 3.2l1.2 6.3l3.6 21.1l1.2 5.9l1.2 4.9l1.2 4l1.2 2.9l1.6 2.8l1.6 1.7l2 1.2l2.4 0.8l3.6 0.5l4.8 0.4l6.8 0.4l9.2 0.2l29.2 0.3" stroke="#ff8000" stroke-width="2.4"/>
<path d="M1535.1 223.6l18-0.3l9.6-0.4l2.4-0.2l2-0.5l1.6-0.7l1.2-0.8l1.2-1.2l1.2-1.8l1.2-2.3l0.8-2l2-6.2l3.6-14.3l1.2-4.3l0.8-2.3l0.8-1.6l0.8-0.9l0.4-0.1l0.4 0.1l0.8 0.8l0.8 1.6l0.8 2.3l1.2 4.2l3.6 14.3l2 6.3l0.8 2l1.2 2.3l1.2 1.8l1.2 1.2l1.2 0.9l1.6 0.7l2 0.5l2.4 0.2l9.6 0.4l18 0.3" stroke="#800080" stroke-width="2.4"/>
<path d="M1817.9 223.6l19.6-0.3l11.2-0.4l3.2-0.3l2.4-0.5l1.6-0.5l1.6-0.9l1.2-1.2l1.2-1.6l1.2-2.4l0.8-2l2-6.6l3.2-13.6l1.2-4.5l1.2-3.1l0.4-0.6l0.4-0.3l0.4-0.1l0.4 0.2l0.4 0.5l0.4 0.7l0.8 2.2l1.2 4.4l2.8 12l1.2 4.6l1.6 4.9l1.6 3.4" stroke="#ff1493" stroke-width="2.4"/>
<path d="M1296.3 223.5l2.8-0.3l2-0.4l2-0.8l4-2l1.6-0.3l0.8 0.1l1.2 0.3l4 2l2.4 0.8l2.8 0.5l4 0.2" stroke="#ff0000" stroke-width="1.7"/>
<path d="M1296.3 222.2l3.6-0.7l1.6-0.5l1.6-0.7l1.6-0.9l1.2-0.9l2.4-2.2l2-2.6l2.4-3.8l6-11.8l2-3.5l1.2-1.5l0.8-0.7l0.8-0.5l0.8-0.2l0.8 0.1l1.2 0.7l0.8 0.8l1.2 1.7l2 3.5l5.6 11.1l2 3.3l1.6 2.2l1.6 1.8l2 1.8l2 1.3l2.4 1.1l2.8 0.7l3.2 0.5l4 0.4l6 0.2l18.8 0.4l32.4 0.3" stroke="#ff0000" stroke-width="1.7"/>
<path d="M1296.3 222.8l12.8-0.6l4.4-0.5l3.2-0.5l2.8-0.8l2.4-1l2-1.2l2-1.6l2-2.2l1.6-2.2l1.6-2.7l1.6-3.1l3.2-7.4l5.6-15l2.4-5.4l1.2-2l0.8-0.9l1.2-0.9l0.8-0.1l0.8 0.2l1.2 1l1.2 1.6l1.2 2.3l2 4.6l4.8 13l2 5l2.4 5.2l2 3.6l2 2.9l2.4 2.7l1.2 1l1.6 1.1l2.8 1.3l3.6 1l4.4 0.7l6.4 0.5l8.8 0.4l27.6 0.5l49.6 0.3" stroke="#ff0000" stroke-width="1.7"/>
<path d="M1364.3 223.6l3.6-0.3l0.8-0.3l0.8-0.7l0.8-1.6l0.4-1.1l1.6-5.5l0.4-0.4l0.4 0.4l0.4 1l1.2 4.4l0.4 1.2l0.8 1.5l0.8 0.8l0.8 0.3l3.6 0.3" stroke="#ff0000" stroke-width="1.7"/>
<path d="M1392.3 223.6l6.4-0.4l1.2-0.2l1.2-0.6l0.8-0.6l0.8-1l0.8-1.4l2-4.3l0.8-1.1l0.4-0.3l0.4 0.1l0.4 0.3l0.4 0.5l2.8 5.7l0.8 1.1l1.2 1.1l1.2 0.5l1.2 0.3l6 0.3" stroke="#ff0000" stroke-width="1.7"/>
<path d="M1364.3 223.6l22.4-0.3l6.8-0.2l5.2-0.4l4-0.5l3.2-0.7l2.4-0.9l1.6-1.2l1.2-1.5l1.2-2.6l0.8-2.6l0.8-3.6l0.8-4.6l0.8-5.8l3.2-28.3l0.8-4l0.4-0.7l0.4 0.3l0.4 1.2l0.8 4.9l2.8 25.2l0.8 6l0.8 4.9l0.8 3.8l0.8 2.8l1.2 2.8l1.2 1.6l1.6 1.3l2 0.9l3.2 0.7l4 0.6l5.2 0.3l6.8 0.3l22.8 0.3" stroke="#ff0000" stroke-width="1.7"/>
<path d="M1418.3 223.6l16-0.2l9.6-0.2l5.2-0.4l4-0.7l3.2-1l2.8-1.6l2.8-2.2l4.8-4.6l1.6-1.4l2-1.2l1.6-0.4l1.6 0.2l0.8 0.4l1.2 0.7l2 1.7l4.8 4.7l3.2 2.4l2.8 1.4l2.8 1l4 0.6l5.2 0.4l9.6 0.2l16 0.2" stroke="#ff0000" stroke-width="1.7"/>
<path d="M1495.9 223.6l13.2-0.4l4-0.3l2.8-0.4l2.4-0.8l1.6-1.1l1.2-1.4l0.8-1.7l0.8-3.1l0.4-2.7l0.8-9.8l0.8-19.2l1.2-41.6l0.4-7.8l0.4 1.4l0.4 10l0.8 28.7l0.8 22.9l0.8 12.8l0.4 3.5l0.8 4.1l0.8 2l1.2 1.6l1.6 1.2l2.4 0.9l2.8 0.5l4 0.3l13.6 0.4" stroke="#ff0000" stroke-width="1.7"/>
<path d="M1483.5 223.6l18.4-0.3l5.6-0.2l4.4-0.4l3.6-0.5l2.4-0.6l2-1l1.2-1.1l1.2-1.9l0.8-2l0.8-3l0.8-4.2l1.2-8.7l2.4-22.3l0.8-4.7l0.4-0.9l0.4 0.2l0.4 1.3l0.4 2.3l2.8 25.3l1.2 8.4l0.8 3.9l0.8 2.8l0.8 1.9l1.2 1.8l1.2 1l2 0.9l2.8 0.7l3.2 0.4l4.4 0.4l5.6 0.2l18.4 0.3" stroke="#ff0000" stroke-width="1.7"/>
<path d="M1487.1 223.6l17.6-0.3l10-0.5l3.6-0.4l2.8-0.5l2-0.8l1.2-0.8l1.2-1.3l0.8-1.4l0.8-1.9l0.8-2.5l0.8-3.4l0.8-4.1l2.4-15.5l0.8-4.5l0.4-1.6l0.4-1l0.4-0.4l0.4 0.3l0.4 1l0.4 1.5l0.8 4.4l2.4 15.6l0.8 4.1l0.8 3.4l0.8 2.6l0.8 1.9l0.8 1.4l1.2 1.4l1.2 0.8l2 0.8l2.4 0.5l3.6 0.4l10 0.5l18 0.3" stroke="#ff0000" stroke-width="1.7"/>
<path d="M1572.7 223.6l9.2-0.3l2.8-0.2l2.4-0.4l2-0.5l2-0.8l6.4-3.2l1.6-0.4l1.2-0.1l1.2 0.2l1.2 0.3l6.4 3.2l2 0.7l2 0.6l2.4 0.4l2.8 0.2l9.2 0.3" stroke="#ff0000" stroke-width="1.7"/>
<path d="M1556.3 223.6l28.4-0.3l8.8-0.3l6.4-0.3l4.8-0.5l4-0.8l2.8-0.9l2-1.3l0.8-0.8l0.8-1l1.2-2.2l1.2-3.3l0.8-2.9l0.8-3.7l1.2-6.8l3.2-23.3l0.8-5l0.8-3.3l0.4-0.9l0.4-0.3l0.4 0.4l0.4 0.9l0.8 3.5l0.8 5.1l2.8 20.7l1.2 7.2l0.8 4l1.2 4.6l1.2 3.2l1.2 2.2l0.8 1l0.8 0.8l2 1.2l2.8 0.9l4 0.8l4.8 0.5l6.4 0.3l8.8 0.3l28.4 0.3" stroke="#ff0000" stroke-width="1.7"/>
<path d="M1641.1 223.6l2.8-0.2l2-0.2l0.8-0.3l0.8-0.5l0.8-1.4l0.4-1.2l1.6-7.7l0.4-1.6l0.4-0.8l0.4 0.4l0.4 1.4l1.6 7.8l0.4 1.3l0.8 1.6l0.8 0.7l0.8 0.3l1.6 0.2l3.2 0.2" stroke="#ff0000" stroke-width="1.7"/>
<path d="M1698.7 223.6l6-0.2l4.8-0.4l4-0.5l8-1.5l3.6-0.3l3.6 0.3l7.6 1.4l4 0.6l4.8 0.4l6.4 0.2" stroke="#ff0000" stroke-width="1.7"/>
<path d="M1743.9 223.6l4.4-0.3l2.4-0.6l2-1.1l3.2-2.5l1.2-0.4l0.8 0.1l0.8 0.4l3.2 2.5l2 1.1l2.4 0.5l4.4 0.3" stroke="#ff0000" stroke-width="1.7"/>
<path d="M1749.5 223.6l11.6-0.3l3.6-0.3l2.4-0.3l2-0.5l1.6-0.8l1.2-1l0.8-1.2l0.8-2.4l0.4-2l0.8-6.5l0.8-10.9l1.6-29.2l0.4-3.9l0.4-0.2l0.4 3.7l1.6 29.1l0.8 11.1l0.8 6.6l0.4 2.1l0.8 2.4l0.8 1.3l1.2 1l1.6 0.8l2 0.5l2.8 0.3l3.6 0.3l11.6 0.3" stroke="#ff0000" stroke-width="1.7"/>
<path d="M1720.7 223.6l24.8-0.3l13.6-0.5l4.8-0.4l3.6-0.6l2.4-0.6l2-1l1.6-1.3l1.2-1.6l1.2-2.2l1.2-3l0.8-2.5l1.2-4.7l4-18.4l0.8-2.4l0.4-0.8l0.4-0.5l0.4-0.1l0.4 0.3l0.4 0.6l0.4 1l0.8 2.7l3.6 16.8l1.2 4.7l1.2 3.9l1.2 2.9l1.2 2l1.2 1.5l1.6 1.2l2 1l2.4 0.6l3.6 0.5l4.8 0.4l13.6 0.5l24.4 0.3" stroke="#ff0000" stroke-width="1.7"/>
<path d="M1786.7 223.6l1.2-0.2l0.4-0.2l0.4-0.5l0.4-0.8l0.8-2.5l0.4-0.7l0.4 0.5l1.2 3.4l0.4 0.5l0.4 0.3l1.2 0.2" stroke="#ff0000" stroke-width="1.7"/>
<path d="M1794.7 223.6l10-0.3l3.2-0.2l2.4-0.4l2-0.5l1.6-0.8l0.8-0.7l0.8-1.3l0.8-2.6l0.8-5.2l0.8-9.4l1.6-27.1l0.4-3.8l0.4-0.2l0.4 3.6l2 32.3l0.8 7.4l0.4 2.3l0.8 2.6l0.8 1.4l0.8 0.7l1.2 0.7l2 0.6l2.4 0.3l3.2 0.3l10.4 0.3" stroke="#ff0000" stroke-width="1.7"/>
<path d="M1804.7 223.6l8-0.3l4.8-0.4l1.6-0.4l1.2-0.5l0.8-0.5l0.8-0.9l0.8-1.8l0.4-1.5l0.8-5l0.8-8.4l1.2-15.8l0.4-3.5l0.4-0.8l0.4 2l0.4 4.2l1.2 15.9l0.8 7.7l0.8 4.4l0.8 2.2l0.8 1.1l0.8 0.6l1.2 0.5l1.6 0.4l4.8 0.5l8.4 0.3" stroke="#ff0000" stroke-width="1.7"/>
<path d="M1826.3 223.6l8.8-0.3l2-0.3l1.6-0.5l1.2-0.6l1.2-1l1.6-1.8l2.8-3.8l0.8-0.7l0.8-0.4l0.8 0.1l0.8 0.6l4.4 5.6l1.2 1.1l1.6 0.9l1.6 0.5l2 0.3l8.8 0.3" stroke="#ff0000" stroke-width="1.7"/>
<path d="M1869.1 223.6l3.2-0.2l2-0.2l1.2-0.4l0.8-0.5l0.8-0.9l0.8-1.5l1.6-4l0.8-1.7l0.4-0.4l0.4-0.1" stroke="#ff0000" stroke-width="1.7"/>
<path d="M1296.3 224.4H1881.8" stroke="#ff0000" stroke-width="2.6"/>
</g>
<g fill="none" stroke-linejoin="round" clip-path="url(#cc)">
<path d="M1296.3 369.7l0.8-0.4l0.8 0l1.6 0.8l0.4-0.1l1.6-0.9l0.4 0l1.6 0.6l0.4 0l1.6-0.7l0.4 0.1l1.2 0.5l0.8 0l0.8-0.3l1.6-0.9l1.6-1.1l0.4-0.2l0.4 0.1l1.6 0.6l0.8 0.2l0.8-0.3l1.6-0.9l2.8-0.5l1.2 0.3l0.8 0.4l1.2 0.9l0.4 0.2l0.4 0l0.4-0.3l1.2-1.3l0.4-0.2l0.4 0l0.4 0.2l1.2 0.7l0.8 0.1l0.4-0.2l1.2-0.9l0.4-0.2l0.4 0.1l1.6 0.7l0.4 0l1.2-0.6l0.4 0l1.2 0.8l0.4 0l1.2-0.2l0.4 0.2l1.2 1.5l0.4 0.2l0.4 0l0.4-0.3l1.2-1.5l0.4-0.2l0.4 0.2l0.4 0.5l1.2 1.9l0.8 0.6l0.4 0l0.4-0.2l1.6-1.4l0.8-0.3l0.8 0.3l1.2 0.7l0.8 0.2l1.2-0.2l2.4-0.8l0.8-0.1l0.4 0.2l1.2 0.9l0.4 0.1l2.8 0.3l0.8-0.2l1.2-0.9l0.8-0.4l1.2 0.1l1.6 0.8l0.4 0.1l2.4-0.4l2-2.2l2.4-2l0.8-0.3l2 0.2l0.8-0.5l2.4-2.7l0.8-1.3l3.2-6.8l1.2-3.7l1.2-5.2l3.2-18.8l4.4-21.9l0.8-3.3l1.2-3.8l0.8-1.9l0.4-0.4l0.4 0.1l0.4 0.5l2 5.1l2 4.3l0.8 1.1l0.4 0.2l0.4 0l0.4-0.3l0.8-0.9l2.8-5.6l0.8-1.1l0.4-0.4l0.4-0.1l0.4 0.1l0.4 0.4l0.8 1.6l1.2 4.5l1.2 6.3l3.6 24l2 11l1.2 4.9l1.2 3.6l1.2 2.7l1.6 2.5l1.2 1.4l1.2 1.1l3.6 2.6l4.8 2.7l2.4 1.1l1.2 0.4l1.2 0.1l1.2-0.1l5.2-0.9l4.4-1.1l1.2-0.4l1.2-0.6l2.8-2.1l2.8-2.4l2-2l1.6-2l1.6-2.5l1.2-2.2l3.6-7.9l1.2-2.3l1.2-2.1l1.2-1.5l0.8-0.7l1.2-0.6l1.2 0l2.4 0.6l0.8 0l0.8-0.4l0.8-0.7l0.8-1.1l1.2-2l0.8-1.6l1.2-3l1.2-3.9l2.8-11.7l2.8-13.8l5.2-29l4.4-20.5l1.2-5l1.2-4.3l1.2-3.3l0.8-1.6l0.8-1.1l0.8-0.6l0.8-0.1l0.8 0.4l2.4 2.6l0.4 0.2l0.4 0l0.4-0.3l0.8-1.6l1.2-3.6l0.4-1l0.4-0.4l0.4 0.3l0.4 1.1l0.8 4.8l0.8 7.8l2 23l0.8 7.7l0.8 6.3l0.8 4.9l0.8 4l0.8 2.8l0.4 0.8l0.4 0.5l0.4 0l0.4-0.3l0.4-0.6l0.8-1.8l0.8-2.6l1.2-5.2l1.6-9l4-26.2l0.8-4.7l0.8-3.7l0.8-2.5l0.4-0.7l0.4-0.2l0.4 0.2l0.4 0.6l0.4 1.1l0.8 3.4l1.2 7.6l1.6 12.7l3.6 32.3l1.2 8.7l1.6 8.8l1.2 4.7l2.8 7.7l3.2 11.6l1.2 3.8l0.8 2.2l1.2 2.6l0.8 1.3l1.2 1.4l0.8 0.5l0.8 0.4l0.8 0.2l2 0.2l0.8 0.2l2.4 1.2l1.2 0.5l0.8 0.1l0.8-0.2l0.8-0.6l0.8-0.9l1.6-2.5l1.2-2.7l1.2-4.2l0.8-3.8l1.2-7.4l1.2-9.5l0.8-7.5l1.2-13.2l4-48.8l1.2-12.3l0.8-6l0.4-2l0.4-1.4l0.4-0.6l0.4 0l0.4 0.7l0.4 1.2l0.8 3.9l4.4 30.9l1.6 10l2 11.3l1.6 8.2l6.4 29l2.4 9.5l2.4 7.3l1.2 3l1.2 2.6l2.8 4.7l1.6 2.4l1.6 1.9l1.6 1.5l1.6 1.2l1.6 1l1.6 0.7l7.2 2.5l5.2 1.4l5.6 0.9l1.6 0l2-0.6l1.2-0.1l1.2 0.4l3.6 1.8l3.2 0.9l6.8 1.5l7.2 1.5l10 1.5l6.4 0.7l2.4 0.1l6.8-0.8l2.8-0.6l2.8-0.8l3.6-1.4l3.6-2l2.8-1.9l5.6-4.4l3.2-2.1l2.4-1.2l2-0.4l1.6 0.1l1.2 0.2l1.2 0.4l1.2 0.5l2.4 1.5l6.8 4.8l2 1.1l1.6 0.7l2 0.7l1.6 0.3l1.2-0.1l1.2-0.4l1.2-0.8l0.8-0.9l0.8-1.3l0.8-1.9l0.8-2.4l0.8-3l3.2-14.8l0.4-1.2l0.4-0.6l0.4-0.1l0.4 0.4l0.8 2.2l2.8 12.4l1.2 4.2l1.2 3.3l1.2 2.2l1.2 1.4l0.8 0.5l0.8 0.3l0.8 0.1l0.8-0.2l0.8-0.8l0.8-1.5l2.8-7.8l0.8-1.6l0.4-0.6l0.4-0.2l0.4-0.1l0.4 0.2l2 1.9l0.4 0.2l0.8 0l0.8-0.2l0.8-0.6l0.8-1l0.8-1.6l1.2-3.2l1.2-4.3l1.2-5.9l2.4-14.4l0.4-1.5l0.4-1.1l0.4-0.4l0.4 0.3l0.4 0.9l0.4 1.4l3.2 18.6l1.2 5.4l1.6 6.1l1.2 3.7l1.2 2.8l1.6 2.7l1.6 2.2l1.6 1.8l1.2 0.9l0.8 0.2l0.8 0.1l2.4-0.2l1.2-0.2l1.2-0.7l0.8-0.8l1.6-2.4l0.4-0.4l0.4-0.2l0.4 0.2l0.4 0.5l2 3.5l0.8 0.8l0.8 0.4l2 0.5l3.2 0.3l1.6-0.1l1.2-0.4l3.2-2l2.8-2.4l2-2.4l3.2-4.9l1.2-2.2l1.2-2.7l3.6-10.7l0.8-2l0.8-1.5l0.8-0.8l0.4-0.1l0.4 0.1l0.4 0.2l0.8 1l1.2 2.5l2.8 7.1l0.8 1.5l0.8 1l0.8 0.6l0.4 0.2l0.8-0.1l1.2-0.7l1.2-1.6l1.2-2.6l1.2-4l1.2-5.5l0.8-4.5l3.2-22.1l4-30.8l1.2-7.6l1.2-5.5l0.8-2.1l0.4-0.4l0.4-0.2l0.4 0.3l0.8 1.5l1.6 5.1l0.4 0.3l0.4-0.9l1.2-7.2l0.4 1.6l0.8 16L1881.1 373.6" stroke="#000" stroke-width="2.3"/>
<path d="M1296.3 372.5l37.2-0.5l12-0.4l9.2-0.5l7.2-0.8l6-1l4.4-1.4l2-0.9l1.6-0.9l2.4-1.9l1.2-1.4l1.2-1.6l2-3.8l2-5.2l1.6-5.6l1.6-6.8l1.6-7.9l2.8-15.3l1.2-5.7l0.8-3l0.8-2.1l0.4-0.6l0.4-0.4l0.4 0l0.4 0.3l0.8 1.5l1.2 4.1l1.2 5.7l2.8 15.2l1.6 8l1.6 6.9l2 6.7l2 5l1.2 2.2l1.2 1.9l1.2 1.4l1.6 1.5l1.6 1.1l1.6 0.9l2 0.9l2.4 0.7l2.8 0.7l3.2 0.6l7.6 0.9l10.4 0.6l13.2 0.5l18 0.2l60.8 0.4" stroke="#0000ff" stroke-width="2.4"/>
<path d="M1296.3 372.1l44.8-0.4l33.2-0.6l25.2-0.9l10.4-0.6l8.8-0.7l8-0.8l7.2-0.9l6.4-1.1l6-1.3l5.2-1.5l4.4-1.5l4.4-2l3.6-2.1l3.2-2.3l2.8-2.5l2.8-3l2.4-3.1l2.4-3.8l2.4-4.5l2-4.5l2-5.3l2-6l1.6-5.5l3.2-13l3.2-15.3l5.6-29.8l2.4-11l1.2-4.2l1.2-3l0.8-1.3l0.4-0.4l0.8-0.4l0.8 0.3l0.4 0.4l0.8 1.2l1.2 3l1.2 4.1l2.4 10.8l6 31.8l3.6 16.9l2 8l2 7.1l2 6.1l2.4 6.2l2.4 5.2l2.8 4.9l2.8 4l3.2 3.7l3.6 3.1l4 2.8l4.4 2.3l4.8 1.9l5.6 1.8l6 1.4l7.2 1.3l8 1l8.8 0.9l10.4 0.7l12 0.6l14 0.5l34 0.8l47.6 0.5l67.6 0.3l100.8 0.2" stroke="#008000" stroke-width="2.4"/>
<path d="M1507.1 372.7l1.2-0.4l0.8-0.8l0.8-1.8l0.4-1.4l0.8-4l2-13.8l0.4-2l0.4-1.3l0.4-0.4l0.4 0.5l0.4 1.4l0.4 2.1l1.6 11.2l1.2 6.5l0.4 1.3l0.8 1.7l0.8 0.8l0.8 0.4" stroke="#ff8000" stroke-width="2.4"/>
<path d="M1501.5 372.7l37.2-0.4l10.8-0.3l8-0.4l6.4-0.7l4.4-1l1.6-0.5l1.6-0.8l1.2-0.9l0.8-0.8l0.8-1l0.8-1.4l1.2-2.9l1.2-4.3l1.2-6.2l1.2-8.2l1.2-10.5l4-41.4l0.8-5.7l0.4-1.9l0.4-1.2l0.4-0.4l0.4 0.4l0.4 1.1l0.4 1.8l0.8 5.6l0.8 7.4l3.2 34l1.2 10.5l1.2 8.4l1.2 6.1l1.2 4.4l0.8 2.1l0.8 1.6l0.8 1.2l0.8 0.9l1.2 1l1.2 0.7l1.6 0.7l1.6 0.4l4.8 0.9l6 0.6l8 0.5l10.8 0.3l36.4 0.3" stroke="#800080" stroke-width="2.4"/>
<path d="M1768.7 372.7l46.4-0.4l13.6-0.3l9.6-0.4l7.6-0.7l5.2-0.9l2-0.6l1.6-0.7l1.2-0.8l1.2-1l1.2-1.5l0.8-1.4l1.6-3.7l1.6-5.6l1.6-8.1l1.2-7.8l1.6-12.9l4-38.6l1.2-10.2l0.8-5.3l0.8-3.8l0.4-1.2l0.4-0.8l0.4-0.2l0.4 0.3l0.4 0.8l0.4 1.3l1.2 6.4l1.6 13.2l2.4 23.5" stroke="#ff1493" stroke-width="2.4"/>
<path d="M1346.7 372.7l24.8-0.3l7.6-0.2l6-0.4l4-0.4l2.8-0.5l2-0.8l1.6-1.1l1.2-1.4l1.2-2l1.2-2.9l1.2-3.9l0.8-3.3l1.2-5.9l3.2-18.8l1.2-6.3l1.2-4.3l0.4-0.8l0.4-0.5l0.4-0.1l0.4 0.3l0.8 1.6l1.2 4.8l4 23.1l1.2 6l1.2 4.9l1.2 3.8l1.2 2.7l1.2 1.9l1.2 1.3l1.6 1l2 0.7l2.8 0.6l4.4 0.4l13.2 0.5l24.4 0.3" stroke="#ff0000" stroke-width="1.7"/>
<path d="M1447.5 372.7l9.6-0.3l2.4-0.4l2-0.6l1.6-0.8l1.6-1.3l1.2-1.2l2.8-3.4l1.2-1.2l0.8-0.5l0.8-0.2l0.8 0.1l1.2 0.8l5.2 5.8l1.6 1.2l1.6 0.8l2 0.6l2.4 0.3l9.6 0.3" stroke="#ff0000" stroke-width="1.7"/>
<path d="M1388.7 372.7l66.4-0.4l18.8-0.3l13.2-0.5l10.4-0.8l4-0.5l3.6-0.6l2.8-0.7l2.8-0.8l2.4-1l2-1.2l1.6-1.2l1.2-1.2l1.2-1.6l1.2-2l1.2-2.6l0.8-2.1l1.2-3.9l0.8-3.2l2-10l1.6-10.4l4.4-35.2l1.2-8.3l1.2-5.6l0.4-1.1l0.4-0.6l0.4-0.1l0.4 0.4l0.8 2.1l1.2 6.1l1.2 8.6l2.8 23l1.6 12.1l1.6 10.1l1.6 8l0.8 3.3l1.2 4l0.8 2.3l1.2 2.7l1.2 2.1l1.2 1.6l1.6 1.6l1.6 1.2l2 1.2l2.4 0.9l2.8 0.9l2.8 0.6l3.6 0.6l4 0.5l10.4 0.8l13.6 0.5l18.4 0.3l66 0.4" stroke="#ff0000" stroke-width="1.7"/>
<path d="M1515.5 372.7l10.8-0.2l6.8-0.3l4-0.4l1.6-0.3l1.2-0.5l1.2-0.6l0.8-0.7l1.6-1.8l1.6-2.7l3.2-6.7l0.8-1.2l0.8-0.5l0.4 0l0.4 0.3l0.8 0.9l0.8 1.4l2.8 6l1.6 2.6l1.6 1.8l0.8 0.6l1.2 0.7l1.2 0.4l1.6 0.3l4 0.4l6.8 0.3l10.8 0.2" stroke="#ff0000" stroke-width="1.7"/>
<path d="M1382.3 372.7l93.6-0.4l27.2-0.3l19.6-0.4l14.8-0.7l11.6-0.9l4.8-0.6l4.4-0.8l3.6-0.8l3.2-0.9l2.8-1.1l2.4-1.2l2-1.3l2-1.6l2-2l1.6-2.1l1.6-2.5l1.6-2.9l1.6-3.6l1.2-3.2l2.4-7.4l2.4-9l4-16.6l1.6-5.8l0.8-2.3l0.8-1.8l0.8-1.2l0.8-0.5l0.4 0l0.4 0.2l0.8 1l0.8 1.5l0.8 2.2l1.6 5.5l4.4 18.2l2.4 9l2.4 7.3l1.2 3.1l1.6 3.6l1.6 2.9l1.6 2.5l1.6 2l2 2l2 1.6l2 1.2l2.4 1.2l2.8 1.1l3.2 0.9l3.6 0.8l4.4 0.8l4.8 0.6l11.6 0.9l14.8 0.7l19.6 0.4l27.2 0.3l93.6 0.4" stroke="#ff0000" stroke-width="1.7"/>
<path d="M1614.3 372.7l36-0.2l22.4-0.3l14-0.6l4.8-0.3l4-0.5l2.8-0.5l2.8-0.7l2.8-1l2.4-1.1l2.4-1.3l2.4-1.6l7.2-5.7l2.4-1.7l1.2-0.6l1.2-0.5l2-0.3l2 0.3l2.4 1.2l2.4 1.7l6.8 5.4l2.4 1.6l2.4 1.4l2.4 1.1l2.8 1l2.8 0.7l3.2 0.6l4 0.5l4.8 0.4l14 0.5l22.4 0.3l36 0.2" stroke="#ff0000" stroke-width="1.7"/>
<path d="M1714.7 372.7l16-0.3l9.2-0.4l3.2-0.4l2.4-0.5l2-0.7l1.2-0.7l1.2-1.2l0.8-1.2l0.8-1.7l0.8-2.2l0.8-2.9l0.8-3.7l2-11.1l0.8-3.8l0.4-1.2l0.4-0.8l0.4-0.1l0.4 0.6l0.8 2.8l2.4 13.1l0.8 3.7l0.8 3l0.8 2.4l0.8 1.7l0.8 1.3l1.2 1.2l1.2 0.7l2 0.8l2.4 0.5l3.2 0.4l9.2 0.4l16 0.3" stroke="#ff0000" stroke-width="1.7"/>
<path d="M1750.3 372.7l12.8-0.4l3.2-0.4l2-0.5l1.6-0.9l1.2-1l1.6-1.9l3.2-4.9l0.8-0.7l0.8-0.2l0.8 0.4l0.8 0.8l2.8 4.3l1.6 2l1.2 1.1l1.6 0.9l2 0.6l3.2 0.4l5.2 0.2l7.6 0.2" stroke="#ff0000" stroke-width="1.7"/>
<path d="M1733.9 372.7l22.8-0.3l6.8-0.3l5.2-0.3l4.4-0.5l3.2-0.8l2.4-0.9l1.6-1.2l1.2-1.4l1.2-2.3l1.2-3.6l0.8-3.4l1.6-9.7l2.8-21.3l0.4-2.1l0.4-1.3l0.4-0.5l0.4 0.4l0.4 1.2l0.4 1.9l3.2 24.1l0.8 4.9l0.8 3.9l0.8 3.1l1.2 3.2l1.2 2l1.2 1.2l2 1.2l2.4 0.8l3.2 0.7l4 0.4l5.2 0.4l7.2 0.2l22.4 0.3" stroke="#ff0000" stroke-width="1.7"/>
<path d="M1808.3 372.7l2.4-0.3l1.2-0.5l0.8-0.7l0.4-0.6l1.6-3l0.4-0.5l0.4-0.3l0.4 0.1l0.4 0.5l1.6 3l1.2 1.4l1.2 0.6l2.8 0.3" stroke="#ff0000" stroke-width="1.7"/>
<path d="M1779.1 372.7l25.6-0.3l14.4-0.4l5.2-0.4l4-0.5l2.8-0.6l2.4-0.9l1.6-1l1.6-1.5l1.2-1.6l1.2-2.1l1.2-2.7l1.2-3.4l3.6-12.4l0.8-2.4l0.8-1.7l0.4-0.6l0.4-0.3l0.4-0.1l0.4 0.2l0.4 0.4l0.4 0.7l0.8 1.9l3.6 12.3l2 5.8l0.8 1.8l1.2 2.2l0.8 1.2l1.2 1.4l1.2 1l1.6 1l1.6 0.6l2 0.5l2.8 0.5l3.2 0.3l9.2 0.6" stroke="#ff0000" stroke-width="1.7"/>
<path d="M1867.5 372.7l4.4-0.2l2.4-0.3l1.6-0.5l0.8-0.6l0.4-0.5l0.4-0.8l0.4-1.5l0.4-2.5l0.4-3.9l1.2-17l0.4-2.1l0.4 2.8l0.4 5.7" stroke="#ff0000" stroke-width="1.7"/>
<path d="M1296.3 373.6H1881.8" stroke="#ff0000" stroke-width="2.6"/>
</g>
<g fill="none" stroke-linejoin="round" clip-path="url(#cc)">
<path d="M1296.3 518l1.2-0.3l1.2-0.5l1.6-1l1.2-0.9l1.2-1.3l1.2-1.5l3.2-5.2l1.6-2.1l1.2-1.2l1.6-1.1l1.2-0.8l2-0.9l1.2-1.1l0.8-1.4l0.8-2.2l2.8-10.7l1.2-4l1.6-4.1l1.2-2.2l1.2-1.3l0.4-0.2l0.8-0.1l1.2 0.3l2.4 1.7l1.2 0.1l0.8-0.3l1.2-0.6l1.6-1.3l1.6-2.2l2-4l1.6-4l3.2-9.1l1.2-2.7l1.2-2l0.8-0.9l0.8-0.7l1.2-0.3l0.8 0.2l0.8 0.4l1.2 1.3l1.2 2.1l1.6 4.1l1.6 5.4l9.6 36l2 6.1l1.2 2.6l0.4 0.5l0.4 0.2l0.4-0.1l0.4-0.7l0.8-2.8l1.2-5.9l0.4-0.6l0.4 0.8l1.6 8.4l0.4 1.5l0.4 1l0.4 0.6l0.8 0.5l1.6 0.7l1.2 0.8l3.6 4.3l2 1.8l2 1.3l2 0.9l3.2 0.9l4.4 0.9l3.2 0.4l6 0.4l1.6-0.3l0.8-0.3l0.8-0.4l1.2-1.3l0.8-1.3l1.2-2.8l0.8-2.7l0.8-3.4l0.8-4.4l0.8-5.7l0.8-7.1l2.8-30.3l0.8-5.4l0.4-1.3l0.4-0.2l0.4 0.9l0.8 5l3.2 33.8l0.8 6.4l0.8 5l1.2 5.3l1.2 3.3l0.8 1.6l1.2 1.9l0.8 1l1.2 1l2 0.8l2.8 0.5l10 0.8l10 0.2l13.2-0.2l8.4-0.3l4.4-0.4l4.8-0.7l2.8-0.1l1.2-0.3l1.2-0.4l1.2-0.9l1.2-1.4l1.2-2.3l0.8-2.3l1.6-6.6l4-21.1l0.8-2.9l0.4-0.9l0.4-0.5l0.4-0.1l0.4 0.4l0.4 0.7l0.8 2.4l3.6 16.1l1.2 4.3l0.8 2.4l1.2 2.8l1.2 1.9l0.8 0.7l0.4 0.2l0.4 0l0.4-0.2l0.4-0.5l0.4-0.7l0.8-2.6l0.8-3.7l0.8-4.8l1.6-12l0.8-8.2l0.4-5.6l0.8-17.2l0.4-12.7l1.6-64.2l0.4-4.6l0.4 5l1.6 47.2l0.8 14.8l0.8 9.6l1.2 11.6l1.2 10.7l1.2 9.1l1.2 7.4l2 10l1.2 4.8l1.2 3.6l1.6 3.4l0.8 1.2l0.8 1l1.6 1.3l2.4 1.2l2.4 0.9l2.8 0.8l3.6 0.7l3.2 0.5l3.2 0l4.8-0.1l8.8-0.7l4.8-0.6l5.2-1.3l3.6-1.2l6.4-2.5l3.2-0.5l0.8-0.2l4.4-2.1l1.2-0.4l1.2-0.1l3.2 0.4l1.2 0l0.8-0.1l0.8-0.4l0.8-0.8l0.8-1.2l1.6-3.1l1.6-4.5l1.2-4.3l1.2-5.4l1.2-6.9l3.6-24.8l0.8-3.8l0.4-1.3l0.4-0.8l0.4-0.2l0.4 0.4l0.4 0.9l0.8 3.2l4.4 28.8l1.6 7.9l1.6 6l1.6 4.3l1.6 2.8l1.2 1.5l1.2 1.1l1.2 0.9l1.6 1l1.2 0.5l1.2 0.3l0.8 0l0.8-0.5l0.8-1.5l0.8-2.8l1.2-5.3l0.4-1.2l0.4-0.3l0.4 0.6l0.4 1.4l1.2 6l0.8 3.4l0.4 1.3l0.8 1.7l1.2 1.5l1.6 1.4l1.6 1.1l1.6 0.5l2.4 0.3l4.8 0.2l13.2 0.3l12.8-0.1l14.4-0.3l3.6-0.2l3.2-0.4l2.4-0.6l4.8-1.6l2-0.3l1.2 0.1l1.2 0.3l4.4 1.5l2 0.5l2 0.3l2 0.2l5.2 0l7.2-0.2l5.2-0.3l2-0.5l2-1.1l3.6-2.6l2.4-2.1l1.6-1.7l1.2-1.9l1.2-2.7l1.2-3.7l0.8-3.3l1.2-7.1l1.2-10.8l1.2-16.6l2-34.8l0.4-3.8l0.4-1.2l0.4 1.3l0.4 3.7l2 28.1l0.4 4.3l0.8 5.6l0.4 1.5l0.4 0.7l0.4 0.1l0.4-0.3l1.6-3.1l0.4-0.5l0.4-0.3l0.4 0l0.4 0.4l0.4 0.8l0.8 2.3l0.8 3.3l3.2 16.7l1.2 5.7l1.2 4.8l0.8 2.6l1.6 4.2l1.6 3.1l2 3l2 2.2l2 1.7l1.2 0.5l1.2-0.2l1.2-0.7l2.8-2l1.2-1.2l1.2-1.3l1.2-1.7l0.8-1.4l0.8-2.2l0.8-4.3l0.8-8.3l0.8-13.3l1.2-24.6l0.4-5.4l0.4-1.8l0.4 2.5l0.4 5.8l1.2 22.4l0.4 5.4l0.4 3.7l0.4 1.7l0.4-0.2l0.4-1.9l0.4-3.3l1.2-13.7l0.4-3.4l0.4-1.5l0.4 0.9l0.4 3.1l2 23.9l0.4 3.4l0.8 4.7l0.8 3l1.2 3l1.6 2.8l2 2.8l1.2 1.3l0.8 0.5l0.8 0.3l2 0.3l2 0.6l0.8 0.5l1.2 1.1l0.4 0.2l0.8-0.1l1.6-0.7l0.8 0l0.8 0.3l2 1.6l0.8 0.4l0.8 0l2.4-0.3l2.4 0.9l2 0.3l1.6-0.3l2 0.6l1.2-0.4l0.8-0.1l2.4 0.6l2.4 0.9l2.4 0l2 0.9l0.8 0.3l1.6 0.1l2-0.2l2 0.2" stroke="#000" stroke-width="2.3"/>
<path d="M1296.3 522.3l3.6-0.2l2.4-0.6l2-1.1l3.2-2.5l1.2-0.4l0.8 0.1l0.8 0.4l3.2 2.5l2 1.1l2.4 0.5l4.4 0.3" stroke="#ff0000" stroke-width="1.7"/>
<path d="M1296.3 521l4.4-0.7l2-0.6l1.6-0.7l1.6-0.9l1.2-0.9l1.6-1.5l1.2-1.4l1.2-1.8l1.2-2l2.4-5.1l2-5l4-11.1l2-4.8l1.2-2.2l0.8-1l0.8-0.6l0.8-0.2l0.8 0.2l0.8 0.7l0.8 1l1.2 2.2l2 4.8l5.2 14.2l2 4.6l1.6 3.1l2 3l2 2.3l2 1.5l2.4 1.3l2.8 0.9l3.6 0.6l4.8 0.4l6.8 0.4l21.2 0.4l36.8 0.3" stroke="#ff0000" stroke-width="1.7"/>
<path d="M1296.3 521.3l7.2-0.4l6-0.5l4.4-0.6l3.6-0.8l2.8-1l2.4-1.3l2.4-1.9l2-2.3l2-3.1l1.6-3.1l1.6-3.8l2-5.6l2.8-9.4l5.6-21.4l2.4-7.8l1.2-2.8l0.8-1.5l0.8-0.9l0.4-0.3l0.8-0.3l0.8 0.2l0.4 0.4l0.8 0.9l1.2 2.3l1.2 3.1l2.4 8.1l4.4 17l2 7.2l2.4 7.6l2.4 6.1l2.4 4.7l1.2 1.8l1.2 1.6l1.2 1.3l1.6 1.3l1.6 1.1l1.6 0.8l2 0.8l2 0.6l5.2 0.8l8 0.7l11.2 0.6l14.4 0.3l18.8 0.3l62.8 0.3" stroke="#ff0000" stroke-width="1.7"/>
<path d="M1364.7 522.4l3.6-0.4l0.8-0.3l0.8-0.8l0.8-2.1l1.6-7.6l0.4-0.7l0.4 0.6l1.6 7.6l0.8 2.1l0.8 0.9l0.8 0.3l3.6 0.4" stroke="#ff0000" stroke-width="1.7"/>
<path d="M1357.9 522.4l7.2-0.3l2-0.3l1.6-0.4l1.6-0.7l1.2-0.8l4.4-3.8l0.8-0.4l0.8-0.2l0.8 0.1l0.8 0.4l4.8 4l1.2 0.8l1.6 0.7l1.6 0.4l2 0.2l7.2 0.3" stroke="#ff0000" stroke-width="1.7"/>
<path d="M1349.5 522.4l29.6-0.3l8.8-0.3l6.8-0.4l5.2-0.6l4-0.8l2.8-1.1l1.2-0.8l0.8-0.7l0.8-0.9l0.8-1.2l1.2-2.6l1.2-4.1l0.8-3.7l0.8-4.7l1.2-8.8l2.8-25.8l0.8-6.3l0.8-4.1l0.4-1l0.4-0.2l0.4 0.7l0.4 1.5l0.8 4.9l3.2 29.1l1.2 9.1l0.8 4.8l0.8 3.9l1.2 4.3l1.2 2.8l0.8 1.2l0.8 1l0.8 0.7l1.2 0.8l1.2 0.6l1.6 0.5l4 0.9l4.8 0.6l6.8 0.4l8.8 0.3l30 0.3" stroke="#ff0000" stroke-width="1.7"/>
<path d="M1445.9 522.4l22.4-0.3l12.8-0.4l4.4-0.4l3.2-0.5l2.4-0.6l2-0.9l1.6-1.2l1.2-1.5l1.2-2.2l1.2-2.9l0.8-2.5l1.2-4.5l3.6-15.9l0.8-2.6l0.4-0.8l0.4-0.5l0.4-0.2l0.4 0.2l0.4 0.5l0.4 0.9l0.8 2.5l3.6 16l1.2 4.5l0.8 2.4l1.2 3l1.2 2.1l1.2 1.5l1.6 1.2l2 0.9l2.4 0.6l3.2 0.5l4.4 0.4l12.8 0.4l22.4 0.3" stroke="#ff0000" stroke-width="1.7"/>
<path d="M1495.5 522.4l14-0.4l4-0.3l2.8-0.5l2.4-0.9l1.6-1.2l1.2-1.7l0.8-2.1l0.8-4.1l0.4-3.7l0.8-13l0.8-23.5l0.8-29.7l0.4-10.5l0.4-1.8l0.4 7.8l1.2 42.9l0.8 20l0.8 10.3l0.4 2.9l0.8 3.2l0.8 1.7l1.2 1.5l1.6 1.1l2.4 0.8l2.8 0.5l4 0.3l14 0.4" stroke="#ff0000" stroke-width="1.7"/>
<path d="M1452.7 522.4l32-0.3l9.6-0.3l7.2-0.4l5.6-0.6l4-0.8l3.2-1.1l1.2-0.6l1.2-0.9l1.6-1.7l0.8-1.3l0.8-1.6l1.2-3.5l1.2-5.1l0.8-4.4l1.2-8.4l3.2-27.8l0.8-4.9l0.4-1.5l0.4-0.7l0.4 0.2l0.4 0.9l0.8 4.1l3.6 30.7l0.8 5.6l1.2 6.8l1.2 4.9l1.2 3.4l1.2 2.2l1.6 1.9l1.2 0.9l1.2 0.7l3.2 1.1l4 0.9l5.6 0.6l6.8 0.4l9.6 0.3l32.4 0.3" stroke="#ff0000" stroke-width="1.7"/>
<path d="M1479.5 522.4l55.2-0.4l16.8-0.2l12.4-0.5l8.8-0.5l7.6-0.7l6.8-1l11.6-2.1l3.2-0.4l2.8-0.1l2.8 0.1l2.8 0.4l11.6 2.1l6.8 1l7.6 0.7l8.8 0.5l12.4 0.5l16.8 0.2l55.2 0.4" stroke="#ff0000" stroke-width="1.7"/>
<path d="M1541.1 522.4l36-0.3l10.4-0.3l8-0.4l6-0.6l4.8-0.9l2-0.5l1.6-0.6l1.2-0.6l1.2-0.8l1.6-1.6l0.8-1.1l0.8-1.3l0.8-1.8l0.8-2.2l1.2-4.4l1.2-5.7l1.2-7.3l3.6-26.2l0.8-4.1l0.4-1.3l0.4-0.7l0.4-0.2l0.4 0.5l0.4 1l0.8 3.7l0.8 5.1l3.2 23.5l1.2 7.1l1.2 5.5l1.2 4.1l0.8 2.1l0.8 1.6l1.6 2.4l1.6 1.4l2.4 1.4l3.6 1.1l4.8 0.8l6 0.6l8 0.4l10.4 0.3l35.6 0.3" stroke="#ff0000" stroke-width="1.7"/>
<path d="M1639.1 522.4l4-0.2l2.4-0.3l1.2-0.4l0.8-0.8l0.8-1.6l0.4-1.2l2-9.6l0.4-1.3l0.4-0.5l0.4 0.5l0.4 1.4l1.2 6.1l0.8 3.5l0.4 1.2l0.8 1.5l0.8 0.8l1.2 0.4l2.4 0.3l4 0.2" stroke="#ff0000" stroke-width="1.7"/>
<path d="M1709.1 522.4l4-0.2l2.8-0.4l2.4-0.5l4.8-1.5l2-0.3l1.2 0.1l1.2 0.2l4.4 1.4l2.4 0.6l2.8 0.4l4 0.2" stroke="#ff0000" stroke-width="1.7"/>
<path d="M1732.7 522.4l19.2-0.3l5.6-0.3l4.4-0.5l3.2-0.6l2.4-0.9l1.2-0.7l0.8-0.6l1.2-1.6l0.8-1.8l0.8-3.1l0.8-5l0.4-3.6l1.2-15.7l2-38.1l0.4-5.8l0.4-3.5l0.4-0.7l0.4 2.4l0.4 5l2 37.9l1.2 16.8l0.4 3.9l0.8 5.6l0.8 3.4l0.8 2l1.2 1.7l0.8 0.7l1.2 0.7l2.4 1l3.2 0.6l4 0.4l5.6 0.3l19.6 0.4" stroke="#ff0000" stroke-width="1.7"/>
<path d="M1711.5 522.4l29.6-0.3l9.2-0.2l6.8-0.3l5.6-0.5l4-0.6l2.8-0.7l2.4-1.2l1.6-1.3l1.6-2l1.2-2.3l1.2-3.1l1.2-3.9l1.2-4.9l3.2-15.9l1.2-5.4l0.8-2.6l0.4-0.9l0.4-0.6l0.4-0.2l0.4 0.1l0.4 0.5l0.4 0.8l0.8 2.4l1.2 5.3l3.2 15.9l1.2 5l1.2 4.1l1.2 3.1l1.6 3l1.6 1.9l1.6 1.2l2.4 1.1l2.8 0.6l4.4 0.7l5.6 0.4l16 0.5l29.2 0.3" stroke="#ff0000" stroke-width="1.7"/>
<path d="M1790.3 522.4l12.4-0.3l3.6-0.3l2.8-0.3l2.4-0.6l1.6-0.8l1.2-1l0.8-1.3l0.8-2.3l0.4-2l0.8-6.4l0.8-11.2l1.6-32.3l0.4-5.5l0.4-1.6l0.4 2.8l0.4 6.2l1.2 25l0.8 13.1l0.4 4.6l0.8 5.9l0.4 1.8l0.8 2.1l0.8 1.2l1.2 1l1.6 0.7l2.4 0.6l2.8 0.3l3.6 0.3l12 0.3" stroke="#ff0000" stroke-width="1.7"/>
<path d="M1797.1 522.4l11.6-0.3l3.6-0.2l2.8-0.3l2.4-0.5l1.6-0.6l1.2-0.9l0.8-0.9l0.8-1.7l0.4-1.4l0.8-4.2l0.4-3.2l0.8-8.6l1.6-22.5l0.4-3.9l0.4-1.7l0.4 1l0.4 3.4l1.6 22.4l0.8 9l0.4 3.4l0.8 4.5l0.4 1.5l0.8 1.8l0.8 1.1l1.2 0.8l1.6 0.6l2.4 0.6l2.8 0.3l3.6 0.2l11.6 0.3" stroke="#ff0000" stroke-width="1.7"/>
<path d="M1296.3 522.9H1881.8" stroke="#ff0000" stroke-width="2.6"/>
</g>
<rect x="1296.3" y="61.3" width="588.2" height="470.3" fill="none" stroke="#000" stroke-width="2.3"/>
<path d="M1881.57 531.6v12.1M1849.05 531.6v6.1M1816.54 531.6v12.1M1784.02 531.6v6.1M1751.51 531.6v12.1M1718.99 531.6v6.1M1686.48 531.6v12.1M1653.96 531.6v6.1M1621.45 531.6v12.1M1588.93 531.6v6.1M1556.42 531.6v12.1M1523.90 531.6v6.1M1491.39 531.6v12.1M1458.88 531.6v6.1M1426.36 531.6v12.1M1393.85 531.6v6.1M1361.33 531.6v12.1M1328.82 531.6v6.1M1296.30 531.6v12.1" stroke="#000" stroke-width="2.2" fill="none"/>
<text x="1881.6" y="572" font-family="Liberation Serif, serif" font-size="26.2" text-anchor="middle">600</text>
<text x="1816.5" y="572" font-family="Liberation Serif, serif" font-size="26.2" text-anchor="middle">700</text>
<text x="1751.5" y="572" font-family="Liberation Serif, serif" font-size="26.2" text-anchor="middle">800</text>
<text x="1686.5" y="572" font-family="Liberation Serif, serif" font-size="26.2" text-anchor="middle">900</text>
<text x="1621.4" y="572" font-family="Liberation Serif, serif" font-size="26.2" text-anchor="middle">1000</text>
<text x="1556.4" y="572" font-family="Liberation Serif, serif" font-size="26.2" text-anchor="middle">1100</text>
<text x="1491.4" y="572" font-family="Liberation Serif, serif" font-size="26.2" text-anchor="middle">1200</text>
<text x="1426.4" y="572" font-family="Liberation Serif, serif" font-size="26.2" text-anchor="middle">1300</text>
<text x="1361.3" y="572" font-family="Liberation Serif, serif" font-size="26.2" text-anchor="middle">1400</text>
<text x="1296.3" y="572" font-family="Liberation Serif, serif" font-size="26.2" text-anchor="middle">1500</text>
<text transform="translate(1276.4,311.6) rotate(-90)" font-family="Liberation Serif, serif" font-size="31.6" text-anchor="middle">Absorbance</text>
<text x="1591.2" y="626" font-family="Liberation Serif, serif" font-size="31.8" text-anchor="middle">Wavenumber (cm<tspan font-size="21" dy="-13">-1</tspan><tspan dy="13">)</tspan></text>
<text x="1284" y="36.3" font-family="Liberation Serif, serif" font-size="52" font-weight="bold">c</text>
<text x="1305.2" y="95" font-family="Liberation Serif, serif" font-size="31.4">S-IL@ZIF-8</text>
<text x="1305.2" y="265.4" font-family="Liberation Serif, serif" font-size="31.4">S-IL</text>
<text x="1305.2" y="420.2" font-family="Liberation Serif, serif" font-size="31.4">ZIF-8</text>
<text x="1359" y="167" font-family="Liberation Serif, serif" font-size="21">1351</text>
<text x="1433" y="163.5" font-family="Liberation Serif, serif" font-size="21">1199</text>
<text x="1472" y="116.4" font-family="Liberation Serif, serif" font-size="21">1177</text>
<text x="1580" y="151" font-family="Liberation Serif, serif" font-size="21">1058</text>
<text x="1834.5" y="160.8" font-family="Liberation Serif, serif" font-size="21">616</text>
<text x="1354" y="293" font-family="Liberation Serif, serif" font-size="21">1347</text>
<text x="1432.5" y="252.6" font-family="Liberation Serif, serif" font-size="21">1177</text>
<text x="1442.5" y="307.7" font-family="Liberation Serif, serif" font-size="21">1165</text>
<text x="1614.5" y="262.8" font-family="Liberation Serif, serif" font-size="21">1052</text>
<text x="1844.5" y="255.3" font-family="Liberation Serif, serif" font-size="21">610</text>
<path d="M1493.7 118.6L1496.7 128.9" stroke="#000" stroke-width="1.3" fill="none"/>
<path d="M1501.0 143.3L1492.9 130.0L1500.6 127.8Z" fill="#000"/>
<path d="M1464.7 166.2L1473.8 173.2" stroke="#000" stroke-width="1.3" fill="none"/>
<path d="M1485.7 182.3L1471.4 176.3L1476.2 170.0Z" fill="#000"/>
<path d="M1591.4 160.4L1590.1 164.3" stroke="#000" stroke-width="1.3" fill="none"/>
<path d="M1585.5 178.6L1586.3 163.1L1593.9 165.6Z" fill="#000"/>
<path d="M1475.5 241.9L1484.7 241.6" stroke="#000" stroke-width="1.3" fill="none"/>
<path d="M1499.7 241.1L1484.8 245.6L1484.6 237.6Z" fill="#000"/>
<path d="M1475.5 312.3L1499.6 332.9" stroke="#000" stroke-width="1.3" fill="none"/>
<path d="M1511.0 342.7L1497.0 336.0L1502.2 329.9Z" fill="#000"/>
<path d="M1616.3 265.3L1603.9 272.2" stroke="#000" stroke-width="1.3" fill="none"/>
<path d="M1590.8 279.5L1602.0 268.7L1605.9 275.7Z" fill="#000"/>
</svg>
</body></html>
